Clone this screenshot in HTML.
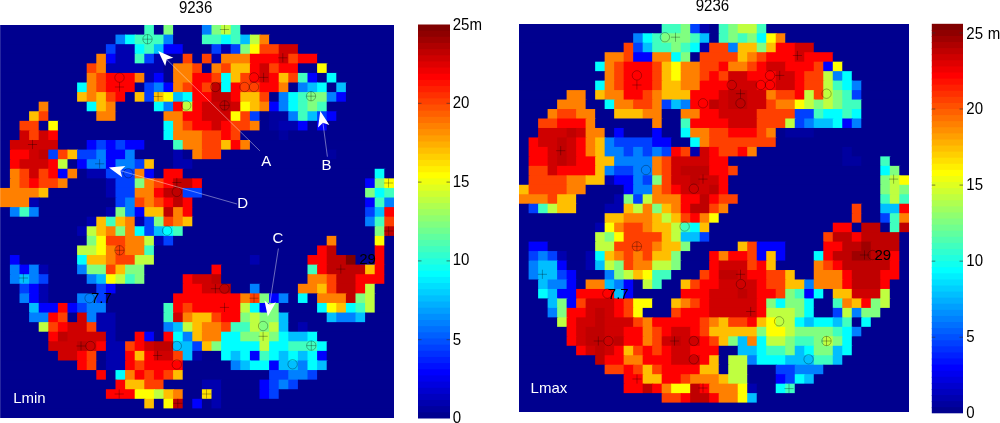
<!DOCTYPE html>
<html><head><meta charset="utf-8"><style>
html,body{margin:0;padding:0;background:#fff;}
body{width:1000px;height:423px;overflow:hidden;position:relative;font-family:"Liberation Sans",sans-serif;}
svg{position:absolute;left:0;top:0;will-change:transform;}
</style></head><body>
<svg width="1000" height="423" viewBox="0 0 1000 423" font-family="Liberation Sans, sans-serif">
<clipPath id="cl"><rect x="0" y="25" width="394" height="393"/></clipPath>
<g clip-path="url(#cl)">
<rect x="-0.70" y="24.00" width="146.00" height="11.59" fill="#00008f"/>
<rect x="144.30" y="24.00" width="10.60" height="11.59" fill="#40ffbf"/>
<rect x="153.90" y="24.00" width="10.60" height="11.59" fill="#00008f"/>
<rect x="163.50" y="24.00" width="10.60" height="11.59" fill="#80ff80"/>
<rect x="173.10" y="24.00" width="29.80" height="11.59" fill="#00008f"/>
<rect x="201.90" y="24.00" width="10.60" height="11.59" fill="#0080ff"/>
<rect x="211.50" y="24.00" width="10.60" height="11.59" fill="#80ff80"/>
<rect x="221.10" y="24.00" width="10.60" height="11.59" fill="#bfff40"/>
<rect x="230.70" y="24.00" width="10.60" height="11.59" fill="#40ffbf"/>
<rect x="240.30" y="24.00" width="154.60" height="11.59" fill="#00008f"/>
<rect x="-0.70" y="34.59" width="117.20" height="10.59" fill="#00008f"/>
<rect x="115.50" y="34.59" width="10.60" height="10.59" fill="#0080ff"/>
<rect x="125.10" y="34.59" width="10.60" height="10.59" fill="#00ffff"/>
<rect x="134.70" y="34.59" width="29.80" height="10.59" fill="#40ffbf"/>
<rect x="163.50" y="34.59" width="10.60" height="10.59" fill="#0080ff"/>
<rect x="173.10" y="34.59" width="29.80" height="10.59" fill="#00008f"/>
<rect x="201.90" y="34.59" width="20.20" height="10.59" fill="#40ffbf"/>
<rect x="221.10" y="34.59" width="10.60" height="10.59" fill="#00ffff"/>
<rect x="230.70" y="34.59" width="10.60" height="10.59" fill="#40ffbf"/>
<rect x="240.30" y="34.59" width="10.60" height="10.59" fill="#00bfff"/>
<rect x="249.90" y="34.59" width="10.60" height="10.59" fill="#bfff40"/>
<rect x="259.50" y="34.59" width="10.60" height="10.59" fill="#ff8000"/>
<rect x="269.10" y="34.59" width="125.80" height="10.59" fill="#00008f"/>
<rect x="-0.70" y="44.17" width="107.60" height="10.59" fill="#00008f"/>
<rect x="105.90" y="44.17" width="10.60" height="10.59" fill="#0040ff"/>
<rect x="115.50" y="44.17" width="20.20" height="10.59" fill="#0000af"/>
<rect x="134.70" y="44.17" width="10.60" height="10.59" fill="#00ffff"/>
<rect x="144.30" y="44.17" width="10.60" height="10.59" fill="#40ffbf"/>
<rect x="153.90" y="44.17" width="10.60" height="10.59" fill="#00bfff"/>
<rect x="163.50" y="44.17" width="20.20" height="10.59" fill="#0000ff"/>
<rect x="182.70" y="44.17" width="29.80" height="10.59" fill="#00008f"/>
<rect x="211.50" y="44.17" width="10.60" height="10.59" fill="#0040ff"/>
<rect x="221.10" y="44.17" width="10.60" height="10.59" fill="#0000af"/>
<rect x="230.70" y="44.17" width="10.60" height="10.59" fill="#0040ff"/>
<rect x="240.30" y="44.17" width="10.60" height="10.59" fill="#80ff80"/>
<rect x="249.90" y="44.17" width="10.60" height="10.59" fill="#ffff00"/>
<rect x="259.50" y="44.17" width="20.20" height="10.59" fill="#ff4000"/>
<rect x="278.70" y="44.17" width="20.20" height="10.59" fill="#cf0000"/>
<rect x="297.90" y="44.17" width="97.00" height="10.59" fill="#00008f"/>
<rect x="-0.70" y="53.76" width="98.00" height="10.59" fill="#00008f"/>
<rect x="96.30" y="53.76" width="10.60" height="10.59" fill="#ff8000"/>
<rect x="105.90" y="53.76" width="10.60" height="10.59" fill="#0000ff"/>
<rect x="115.50" y="53.76" width="20.20" height="10.59" fill="#0000af"/>
<rect x="134.70" y="53.76" width="10.60" height="10.59" fill="#40ffbf"/>
<rect x="144.30" y="53.76" width="10.60" height="10.59" fill="#0040ff"/>
<rect x="153.90" y="53.76" width="10.60" height="10.59" fill="#0000af"/>
<rect x="163.50" y="53.76" width="20.20" height="10.59" fill="#00008f"/>
<rect x="182.70" y="53.76" width="10.60" height="10.59" fill="#ff4000"/>
<rect x="192.30" y="53.76" width="10.60" height="10.59" fill="#00008f"/>
<rect x="201.90" y="53.76" width="10.60" height="10.59" fill="#ff4000"/>
<rect x="211.50" y="53.76" width="10.60" height="10.59" fill="#0000af"/>
<rect x="221.10" y="53.76" width="29.80" height="10.59" fill="#ff8000"/>
<rect x="249.90" y="53.76" width="29.80" height="10.59" fill="#ff0000"/>
<rect x="278.70" y="53.76" width="10.60" height="10.59" fill="#cf0000"/>
<rect x="288.30" y="53.76" width="10.60" height="10.59" fill="#ff4000"/>
<rect x="297.90" y="53.76" width="20.20" height="10.59" fill="#ff0000"/>
<rect x="317.10" y="53.76" width="77.80" height="10.59" fill="#00008f"/>
<rect x="-0.70" y="63.34" width="88.40" height="10.59" fill="#00008f"/>
<rect x="86.70" y="63.34" width="10.60" height="10.59" fill="#ff4000"/>
<rect x="96.30" y="63.34" width="10.60" height="10.59" fill="#ff8000"/>
<rect x="105.90" y="63.34" width="58.60" height="10.59" fill="#0000af"/>
<rect x="163.50" y="63.34" width="10.60" height="10.59" fill="#00008f"/>
<rect x="173.10" y="63.34" width="20.20" height="10.59" fill="#ff8000"/>
<rect x="192.30" y="63.34" width="10.60" height="10.59" fill="#ff4000"/>
<rect x="201.90" y="63.34" width="10.60" height="10.59" fill="#00008f"/>
<rect x="211.50" y="63.34" width="10.60" height="10.59" fill="#ff8000"/>
<rect x="221.10" y="63.34" width="10.60" height="10.59" fill="#ff4000"/>
<rect x="230.70" y="63.34" width="20.20" height="10.59" fill="#ffbf00"/>
<rect x="249.90" y="63.34" width="10.60" height="10.59" fill="#ff0000"/>
<rect x="259.50" y="63.34" width="10.60" height="10.59" fill="#cf0000"/>
<rect x="269.10" y="63.34" width="10.60" height="10.59" fill="#ff4000"/>
<rect x="278.70" y="63.34" width="20.20" height="10.59" fill="#ff0000"/>
<rect x="297.90" y="63.34" width="20.20" height="10.59" fill="#00008f"/>
<rect x="317.10" y="63.34" width="10.60" height="10.59" fill="#ffff00"/>
<rect x="326.70" y="63.34" width="68.20" height="10.59" fill="#00008f"/>
<rect x="-0.70" y="72.93" width="88.40" height="10.59" fill="#00008f"/>
<rect x="86.70" y="72.93" width="10.60" height="10.59" fill="#ff8000"/>
<rect x="96.30" y="72.93" width="10.60" height="10.59" fill="#ff4000"/>
<rect x="105.90" y="72.93" width="29.80" height="10.59" fill="#ff0000"/>
<rect x="134.70" y="72.93" width="10.60" height="10.59" fill="#ff8000"/>
<rect x="144.30" y="72.93" width="10.60" height="10.59" fill="#0000af"/>
<rect x="153.90" y="72.93" width="10.60" height="10.59" fill="#0000ff"/>
<rect x="163.50" y="72.93" width="10.60" height="10.59" fill="#00008f"/>
<rect x="173.10" y="72.93" width="20.20" height="10.59" fill="#ff8000"/>
<rect x="192.30" y="72.93" width="20.20" height="10.59" fill="#ff0000"/>
<rect x="211.50" y="72.93" width="10.60" height="10.59" fill="#ff4000"/>
<rect x="221.10" y="72.93" width="10.60" height="10.59" fill="#00ffff"/>
<rect x="230.70" y="72.93" width="10.60" height="10.59" fill="#ffbf00"/>
<rect x="240.30" y="72.93" width="10.60" height="10.59" fill="#ff4000"/>
<rect x="249.90" y="72.93" width="10.60" height="10.59" fill="#ff0000"/>
<rect x="259.50" y="72.93" width="10.60" height="10.59" fill="#cf0000"/>
<rect x="269.10" y="72.93" width="10.60" height="10.59" fill="#ff0000"/>
<rect x="278.70" y="72.93" width="10.60" height="10.59" fill="#ffbf00"/>
<rect x="288.30" y="72.93" width="10.60" height="10.59" fill="#ff4000"/>
<rect x="297.90" y="72.93" width="10.60" height="10.59" fill="#40ffbf"/>
<rect x="307.50" y="72.93" width="10.60" height="10.59" fill="#0000ff"/>
<rect x="317.10" y="72.93" width="10.60" height="10.59" fill="#00008f"/>
<rect x="326.70" y="72.93" width="10.60" height="10.59" fill="#00ffff"/>
<rect x="336.30" y="72.93" width="58.60" height="10.59" fill="#00008f"/>
<rect x="-0.70" y="82.51" width="78.80" height="10.58" fill="#00008f"/>
<rect x="77.10" y="82.51" width="10.60" height="10.58" fill="#00ffff"/>
<rect x="86.70" y="82.51" width="10.60" height="10.58" fill="#ff8000"/>
<rect x="96.30" y="82.51" width="10.60" height="10.58" fill="#ff4000"/>
<rect x="105.90" y="82.51" width="29.80" height="10.58" fill="#ff0000"/>
<rect x="134.70" y="82.51" width="10.60" height="10.58" fill="#00008f"/>
<rect x="144.30" y="82.51" width="10.60" height="10.58" fill="#0040ff"/>
<rect x="153.90" y="82.51" width="10.60" height="10.58" fill="#0080ff"/>
<rect x="163.50" y="82.51" width="10.60" height="10.58" fill="#0000ff"/>
<rect x="173.10" y="82.51" width="10.60" height="10.58" fill="#ff8000"/>
<rect x="182.70" y="82.51" width="10.60" height="10.58" fill="#ff4000"/>
<rect x="192.30" y="82.51" width="10.60" height="10.58" fill="#ff0000"/>
<rect x="201.90" y="82.51" width="10.60" height="10.58" fill="#ff4000"/>
<rect x="211.50" y="82.51" width="10.60" height="10.58" fill="#bf0000"/>
<rect x="221.10" y="82.51" width="10.60" height="10.58" fill="#00ffff"/>
<rect x="230.70" y="82.51" width="10.60" height="10.58" fill="#ff0000"/>
<rect x="240.30" y="82.51" width="20.20" height="10.58" fill="#ff4000"/>
<rect x="259.50" y="82.51" width="20.20" height="10.58" fill="#ff0000"/>
<rect x="278.70" y="82.51" width="10.60" height="10.58" fill="#ff8000"/>
<rect x="288.30" y="82.51" width="10.60" height="10.58" fill="#00008f"/>
<rect x="297.90" y="82.51" width="10.60" height="10.58" fill="#0080ff"/>
<rect x="307.50" y="82.51" width="10.60" height="10.58" fill="#00bfff"/>
<rect x="317.10" y="82.51" width="10.60" height="10.58" fill="#00ffff"/>
<rect x="326.70" y="82.51" width="10.60" height="10.58" fill="#00008f"/>
<rect x="336.30" y="82.51" width="10.60" height="10.58" fill="#00bfff"/>
<rect x="345.90" y="82.51" width="49.00" height="10.58" fill="#00008f"/>
<rect x="-0.70" y="92.09" width="78.80" height="10.59" fill="#00008f"/>
<rect x="77.10" y="92.09" width="10.60" height="10.59" fill="#ffbf00"/>
<rect x="86.70" y="92.09" width="10.60" height="10.59" fill="#ff8000"/>
<rect x="96.30" y="92.09" width="10.60" height="10.59" fill="#ffbf00"/>
<rect x="105.90" y="92.09" width="10.60" height="10.59" fill="#ff4000"/>
<rect x="115.50" y="92.09" width="10.60" height="10.59" fill="#ff0000"/>
<rect x="125.10" y="92.09" width="10.60" height="10.59" fill="#00008f"/>
<rect x="134.70" y="92.09" width="10.60" height="10.59" fill="#ffbf00"/>
<rect x="144.30" y="92.09" width="10.60" height="10.59" fill="#0040ff"/>
<rect x="153.90" y="92.09" width="10.60" height="10.59" fill="#ffbf00"/>
<rect x="163.50" y="92.09" width="10.60" height="10.59" fill="#ffff00"/>
<rect x="173.10" y="92.09" width="10.60" height="10.59" fill="#00bfff"/>
<rect x="182.70" y="92.09" width="10.60" height="10.59" fill="#00ffff"/>
<rect x="192.30" y="92.09" width="20.20" height="10.59" fill="#ff0000"/>
<rect x="211.50" y="92.09" width="20.20" height="10.59" fill="#bf0000"/>
<rect x="230.70" y="92.09" width="10.60" height="10.59" fill="#ff0000"/>
<rect x="240.30" y="92.09" width="20.20" height="10.59" fill="#ffbf00"/>
<rect x="259.50" y="92.09" width="10.60" height="10.59" fill="#ff4000"/>
<rect x="269.10" y="92.09" width="10.60" height="10.59" fill="#00008f"/>
<rect x="278.70" y="92.09" width="10.60" height="10.59" fill="#0080ff"/>
<rect x="288.30" y="92.09" width="10.60" height="10.59" fill="#00ffff"/>
<rect x="297.90" y="92.09" width="10.60" height="10.59" fill="#40ffbf"/>
<rect x="307.50" y="92.09" width="20.20" height="10.59" fill="#80ff80"/>
<rect x="326.70" y="92.09" width="10.60" height="10.59" fill="#0080ff"/>
<rect x="336.30" y="92.09" width="10.60" height="10.59" fill="#0000ff"/>
<rect x="345.90" y="92.09" width="49.00" height="10.59" fill="#00008f"/>
<rect x="-0.70" y="101.68" width="40.40" height="10.59" fill="#00008f"/>
<rect x="38.70" y="101.68" width="10.60" height="10.59" fill="#ff8000"/>
<rect x="48.30" y="101.68" width="39.40" height="10.59" fill="#00008f"/>
<rect x="86.70" y="101.68" width="10.60" height="10.59" fill="#00ffff"/>
<rect x="96.30" y="101.68" width="10.60" height="10.59" fill="#ffbf00"/>
<rect x="105.90" y="101.68" width="10.60" height="10.59" fill="#ff8000"/>
<rect x="115.50" y="101.68" width="39.40" height="10.59" fill="#00008f"/>
<rect x="153.90" y="101.68" width="10.60" height="10.59" fill="#00ffff"/>
<rect x="163.50" y="101.68" width="10.60" height="10.59" fill="#0080ff"/>
<rect x="173.10" y="101.68" width="10.60" height="10.59" fill="#ff0000"/>
<rect x="182.70" y="101.68" width="10.60" height="10.59" fill="#bfff40"/>
<rect x="192.30" y="101.68" width="10.60" height="10.59" fill="#ff0000"/>
<rect x="201.90" y="101.68" width="20.20" height="10.59" fill="#cf0000"/>
<rect x="221.10" y="101.68" width="10.60" height="10.59" fill="#bf0000"/>
<rect x="230.70" y="101.68" width="10.60" height="10.59" fill="#cf0000"/>
<rect x="240.30" y="101.68" width="10.60" height="10.59" fill="#ffff00"/>
<rect x="249.90" y="101.68" width="10.60" height="10.59" fill="#ffbf00"/>
<rect x="259.50" y="101.68" width="10.60" height="10.59" fill="#ff8000"/>
<rect x="269.10" y="101.68" width="10.60" height="10.59" fill="#0000ff"/>
<rect x="278.70" y="101.68" width="10.60" height="10.59" fill="#0080ff"/>
<rect x="288.30" y="101.68" width="10.60" height="10.59" fill="#00ffff"/>
<rect x="297.90" y="101.68" width="10.60" height="10.59" fill="#40ffbf"/>
<rect x="307.50" y="101.68" width="10.60" height="10.59" fill="#80ff80"/>
<rect x="317.10" y="101.68" width="10.60" height="10.59" fill="#40ffbf"/>
<rect x="326.70" y="101.68" width="68.20" height="10.59" fill="#00008f"/>
<rect x="-0.70" y="111.27" width="30.80" height="10.59" fill="#00008f"/>
<rect x="29.10" y="111.27" width="10.60" height="10.59" fill="#ffbf00"/>
<rect x="38.70" y="111.27" width="10.60" height="10.59" fill="#ff4000"/>
<rect x="48.30" y="111.27" width="49.00" height="10.59" fill="#00008f"/>
<rect x="96.30" y="111.27" width="20.20" height="10.59" fill="#ff8000"/>
<rect x="115.50" y="111.27" width="49.00" height="10.59" fill="#00008f"/>
<rect x="163.50" y="111.27" width="20.20" height="10.59" fill="#ff8000"/>
<rect x="182.70" y="111.27" width="20.20" height="10.59" fill="#ff0000"/>
<rect x="201.90" y="111.27" width="29.80" height="10.59" fill="#cf0000"/>
<rect x="230.70" y="111.27" width="10.60" height="10.59" fill="#ffff00"/>
<rect x="240.30" y="111.27" width="10.60" height="10.59" fill="#ff4000"/>
<rect x="249.90" y="111.27" width="10.60" height="10.59" fill="#0040ff"/>
<rect x="259.50" y="111.27" width="10.60" height="10.59" fill="#00008f"/>
<rect x="269.10" y="111.27" width="20.20" height="10.59" fill="#00009f"/>
<rect x="288.30" y="111.27" width="10.60" height="10.59" fill="#0080ff"/>
<rect x="297.90" y="111.27" width="10.60" height="10.59" fill="#40ffbf"/>
<rect x="307.50" y="111.27" width="10.60" height="10.59" fill="#00bfff"/>
<rect x="317.10" y="111.27" width="10.60" height="10.59" fill="#0040ff"/>
<rect x="326.70" y="111.27" width="10.60" height="10.59" fill="#0000ff"/>
<rect x="336.30" y="111.27" width="58.60" height="10.59" fill="#00008f"/>
<rect x="-0.70" y="120.85" width="21.20" height="10.58" fill="#00008f"/>
<rect x="19.50" y="120.85" width="20.20" height="10.58" fill="#ff4000"/>
<rect x="38.70" y="120.85" width="10.60" height="10.58" fill="#00008f"/>
<rect x="48.30" y="120.85" width="10.60" height="10.58" fill="#ffff00"/>
<rect x="57.90" y="120.85" width="106.60" height="10.58" fill="#00008f"/>
<rect x="163.50" y="120.85" width="10.60" height="10.58" fill="#00ffff"/>
<rect x="173.10" y="120.85" width="10.60" height="10.58" fill="#ff8000"/>
<rect x="182.70" y="120.85" width="10.60" height="10.58" fill="#ff4000"/>
<rect x="192.30" y="120.85" width="20.20" height="10.58" fill="#ff0000"/>
<rect x="211.50" y="120.85" width="10.60" height="10.58" fill="#cf0000"/>
<rect x="221.10" y="120.85" width="10.60" height="10.58" fill="#ff0000"/>
<rect x="230.70" y="120.85" width="20.20" height="10.58" fill="#ff4000"/>
<rect x="249.90" y="120.85" width="10.60" height="10.58" fill="#ff8000"/>
<rect x="259.50" y="120.85" width="10.60" height="10.58" fill="#00008f"/>
<rect x="269.10" y="120.85" width="10.60" height="10.58" fill="#00009f"/>
<rect x="278.70" y="120.85" width="20.20" height="10.58" fill="#0000af"/>
<rect x="297.90" y="120.85" width="10.60" height="10.58" fill="#0000ff"/>
<rect x="307.50" y="120.85" width="10.60" height="10.58" fill="#00008f"/>
<rect x="317.10" y="120.85" width="10.60" height="10.58" fill="#0000ff"/>
<rect x="326.70" y="120.85" width="68.20" height="10.58" fill="#00008f"/>
<rect x="-0.70" y="130.44" width="21.20" height="10.59" fill="#00008f"/>
<rect x="19.50" y="130.44" width="10.60" height="10.59" fill="#cf0000"/>
<rect x="29.10" y="130.44" width="10.60" height="10.59" fill="#ff4000"/>
<rect x="38.70" y="130.44" width="10.60" height="10.59" fill="#cf0000"/>
<rect x="48.30" y="130.44" width="10.60" height="10.59" fill="#ff0000"/>
<rect x="57.90" y="130.44" width="106.60" height="10.59" fill="#00008f"/>
<rect x="163.50" y="130.44" width="10.60" height="10.59" fill="#00ffff"/>
<rect x="173.10" y="130.44" width="29.80" height="10.59" fill="#ff8000"/>
<rect x="201.90" y="130.44" width="20.20" height="10.59" fill="#ff4000"/>
<rect x="221.10" y="130.44" width="10.60" height="10.59" fill="#ff0000"/>
<rect x="230.70" y="130.44" width="10.60" height="10.59" fill="#ff4000"/>
<rect x="240.30" y="130.44" width="39.40" height="10.59" fill="#00008f"/>
<rect x="278.70" y="130.44" width="10.60" height="10.59" fill="#00009f"/>
<rect x="288.30" y="130.44" width="106.60" height="10.59" fill="#00008f"/>
<rect x="-0.70" y="140.02" width="11.60" height="10.59" fill="#00008f"/>
<rect x="9.90" y="140.02" width="49.00" height="10.59" fill="#cf0000"/>
<rect x="57.90" y="140.02" width="29.80" height="10.59" fill="#00008f"/>
<rect x="86.70" y="140.02" width="10.60" height="10.59" fill="#0000ff"/>
<rect x="96.30" y="140.02" width="10.60" height="10.59" fill="#0040ff"/>
<rect x="105.90" y="140.02" width="10.60" height="10.59" fill="#0000ff"/>
<rect x="115.50" y="140.02" width="10.60" height="10.59" fill="#0040ff"/>
<rect x="125.10" y="140.02" width="20.20" height="10.59" fill="#0000ff"/>
<rect x="144.30" y="140.02" width="29.80" height="10.59" fill="#00008f"/>
<rect x="173.10" y="140.02" width="10.60" height="10.59" fill="#40ffbf"/>
<rect x="182.70" y="140.02" width="20.20" height="10.59" fill="#ff8000"/>
<rect x="201.90" y="140.02" width="20.20" height="10.59" fill="#ff4000"/>
<rect x="221.10" y="140.02" width="10.60" height="10.59" fill="#ffbf00"/>
<rect x="230.70" y="140.02" width="10.60" height="10.59" fill="#ff0000"/>
<rect x="240.30" y="140.02" width="10.60" height="10.59" fill="#ff8000"/>
<rect x="249.90" y="140.02" width="145.00" height="10.59" fill="#00008f"/>
<rect x="-0.70" y="149.61" width="11.60" height="10.59" fill="#00008f"/>
<rect x="9.90" y="149.61" width="20.20" height="10.59" fill="#ff0000"/>
<rect x="29.10" y="149.61" width="10.60" height="10.59" fill="#cf0000"/>
<rect x="38.70" y="149.61" width="10.60" height="10.59" fill="#bf0000"/>
<rect x="48.30" y="149.61" width="10.60" height="10.59" fill="#0040ff"/>
<rect x="57.90" y="149.61" width="10.60" height="10.59" fill="#ff4000"/>
<rect x="67.50" y="149.61" width="10.60" height="10.59" fill="#ffbf00"/>
<rect x="77.10" y="149.61" width="20.20" height="10.59" fill="#0040ff"/>
<rect x="96.30" y="149.61" width="10.60" height="10.59" fill="#0080ff"/>
<rect x="105.90" y="149.61" width="20.20" height="10.59" fill="#0000ff"/>
<rect x="125.10" y="149.61" width="10.60" height="10.59" fill="#0080ff"/>
<rect x="134.70" y="149.61" width="39.40" height="10.59" fill="#00008f"/>
<rect x="173.10" y="149.61" width="10.60" height="10.59" fill="#0000af"/>
<rect x="182.70" y="149.61" width="10.60" height="10.59" fill="#00008f"/>
<rect x="192.30" y="149.61" width="10.60" height="10.59" fill="#ff8000"/>
<rect x="201.90" y="149.61" width="20.20" height="10.59" fill="#ff4000"/>
<rect x="221.10" y="149.61" width="106.60" height="10.59" fill="#00008f"/>
<rect x="326.70" y="149.61" width="10.60" height="10.59" fill="#00009f"/>
<rect x="336.30" y="149.61" width="58.60" height="10.59" fill="#00008f"/>
<rect x="-0.70" y="159.19" width="11.60" height="10.59" fill="#00008f"/>
<rect x="9.90" y="159.19" width="10.60" height="10.59" fill="#ff0000"/>
<rect x="19.50" y="159.19" width="29.80" height="10.59" fill="#cf0000"/>
<rect x="48.30" y="159.19" width="10.60" height="10.59" fill="#ff0000"/>
<rect x="57.90" y="159.19" width="10.60" height="10.59" fill="#bfff40"/>
<rect x="67.50" y="159.19" width="10.60" height="10.59" fill="#00008f"/>
<rect x="77.10" y="159.19" width="10.60" height="10.59" fill="#0000ff"/>
<rect x="86.70" y="159.19" width="20.20" height="10.59" fill="#0080ff"/>
<rect x="105.90" y="159.19" width="10.60" height="10.59" fill="#0000ff"/>
<rect x="115.50" y="159.19" width="20.20" height="10.59" fill="#0080ff"/>
<rect x="134.70" y="159.19" width="10.60" height="10.59" fill="#0040ff"/>
<rect x="144.30" y="159.19" width="10.60" height="10.59" fill="#ffbf00"/>
<rect x="153.90" y="159.19" width="20.20" height="10.59" fill="#00008f"/>
<rect x="173.10" y="159.19" width="20.20" height="10.59" fill="#0000af"/>
<rect x="192.30" y="159.19" width="202.60" height="10.59" fill="#00008f"/>
<rect x="-0.70" y="168.78" width="11.60" height="10.59" fill="#00008f"/>
<rect x="9.90" y="168.78" width="10.60" height="10.59" fill="#ff8000"/>
<rect x="19.50" y="168.78" width="10.60" height="10.59" fill="#ff4000"/>
<rect x="29.10" y="168.78" width="10.60" height="10.59" fill="#cf0000"/>
<rect x="38.70" y="168.78" width="10.60" height="10.59" fill="#ff4000"/>
<rect x="48.30" y="168.78" width="10.60" height="10.59" fill="#ff0000"/>
<rect x="57.90" y="168.78" width="10.60" height="10.59" fill="#0000ff"/>
<rect x="67.50" y="168.78" width="10.60" height="10.59" fill="#ff8000"/>
<rect x="77.10" y="168.78" width="10.60" height="10.59" fill="#00008f"/>
<rect x="86.70" y="168.78" width="20.20" height="10.59" fill="#0000af"/>
<rect x="105.90" y="168.78" width="29.80" height="10.59" fill="#0040ff"/>
<rect x="134.70" y="168.78" width="10.60" height="10.59" fill="#ff8000"/>
<rect x="144.30" y="168.78" width="10.60" height="10.59" fill="#0000ff"/>
<rect x="153.90" y="168.78" width="10.60" height="10.59" fill="#00008f"/>
<rect x="163.50" y="168.78" width="20.20" height="10.59" fill="#ff0000"/>
<rect x="182.70" y="168.78" width="193.00" height="10.59" fill="#00008f"/>
<rect x="374.70" y="168.78" width="10.60" height="10.59" fill="#00ffff"/>
<rect x="384.30" y="168.78" width="10.60" height="10.59" fill="#00008f"/>
<rect x="-0.70" y="178.36" width="11.60" height="10.59" fill="#00008f"/>
<rect x="9.90" y="178.36" width="10.60" height="10.59" fill="#ff8000"/>
<rect x="19.50" y="178.36" width="10.60" height="10.59" fill="#ff4000"/>
<rect x="29.10" y="178.36" width="10.60" height="10.59" fill="#ff0000"/>
<rect x="38.70" y="178.36" width="20.20" height="10.59" fill="#ff4000"/>
<rect x="57.90" y="178.36" width="10.60" height="10.59" fill="#ff8000"/>
<rect x="67.50" y="178.36" width="39.40" height="10.59" fill="#00008f"/>
<rect x="105.90" y="178.36" width="10.60" height="10.59" fill="#0000af"/>
<rect x="115.50" y="178.36" width="20.20" height="10.59" fill="#0040ff"/>
<rect x="134.70" y="178.36" width="10.60" height="10.59" fill="#80ff80"/>
<rect x="144.30" y="178.36" width="10.60" height="10.59" fill="#ff8000"/>
<rect x="153.90" y="178.36" width="10.60" height="10.59" fill="#ff4000"/>
<rect x="163.50" y="178.36" width="10.60" height="10.59" fill="#ff0000"/>
<rect x="173.10" y="178.36" width="20.20" height="10.59" fill="#bf0000"/>
<rect x="192.30" y="178.36" width="10.60" height="10.59" fill="#ff0000"/>
<rect x="201.90" y="178.36" width="164.20" height="10.59" fill="#00008f"/>
<rect x="365.10" y="178.36" width="10.60" height="10.59" fill="#0000ff"/>
<rect x="374.70" y="178.36" width="10.60" height="10.59" fill="#80ff80"/>
<rect x="384.30" y="178.36" width="10.60" height="10.59" fill="#ffff00"/>
<rect x="-0.70" y="187.95" width="40.40" height="10.59" fill="#ff8000"/>
<rect x="38.70" y="187.95" width="10.60" height="10.59" fill="#ffbf00"/>
<rect x="48.30" y="187.95" width="58.60" height="10.59" fill="#00008f"/>
<rect x="105.90" y="187.95" width="10.60" height="10.59" fill="#0000af"/>
<rect x="115.50" y="187.95" width="20.20" height="10.59" fill="#0040ff"/>
<rect x="134.70" y="187.95" width="20.20" height="10.59" fill="#ff8000"/>
<rect x="153.90" y="187.95" width="10.60" height="10.59" fill="#ff0000"/>
<rect x="163.50" y="187.95" width="20.20" height="10.59" fill="#bf0000"/>
<rect x="182.70" y="187.95" width="20.20" height="10.59" fill="#0040ff"/>
<rect x="201.90" y="187.95" width="164.20" height="10.59" fill="#00008f"/>
<rect x="365.10" y="187.95" width="10.60" height="10.59" fill="#80ff80"/>
<rect x="374.70" y="187.95" width="10.60" height="10.59" fill="#00ffff"/>
<rect x="384.30" y="187.95" width="10.60" height="10.59" fill="#40ffbf"/>
<rect x="-0.70" y="197.53" width="30.80" height="10.59" fill="#ff8000"/>
<rect x="29.10" y="197.53" width="10.60" height="10.59" fill="#0000af"/>
<rect x="38.70" y="197.53" width="77.80" height="10.59" fill="#00008f"/>
<rect x="115.50" y="197.53" width="10.60" height="10.59" fill="#0040ff"/>
<rect x="125.10" y="197.53" width="10.60" height="10.59" fill="#0080ff"/>
<rect x="134.70" y="197.53" width="10.60" height="10.59" fill="#ff4000"/>
<rect x="144.30" y="197.53" width="10.60" height="10.59" fill="#ff8000"/>
<rect x="153.90" y="197.53" width="10.60" height="10.59" fill="#ff4000"/>
<rect x="163.50" y="197.53" width="10.60" height="10.59" fill="#ff0000"/>
<rect x="173.10" y="197.53" width="10.60" height="10.59" fill="#bf0000"/>
<rect x="182.70" y="197.53" width="10.60" height="10.59" fill="#ff0000"/>
<rect x="192.30" y="197.53" width="173.80" height="10.59" fill="#00008f"/>
<rect x="365.10" y="197.53" width="10.60" height="10.59" fill="#0000ff"/>
<rect x="374.70" y="197.53" width="10.60" height="10.59" fill="#40ffbf"/>
<rect x="384.30" y="197.53" width="10.60" height="10.59" fill="#0080ff"/>
<rect x="-0.70" y="207.12" width="11.60" height="10.59" fill="#00008f"/>
<rect x="9.90" y="207.12" width="10.60" height="10.59" fill="#0080ff"/>
<rect x="19.50" y="207.12" width="10.60" height="10.59" fill="#40ffbf"/>
<rect x="29.10" y="207.12" width="10.60" height="10.59" fill="#0080ff"/>
<rect x="38.70" y="207.12" width="68.20" height="10.59" fill="#00008f"/>
<rect x="105.90" y="207.12" width="10.60" height="10.59" fill="#0000af"/>
<rect x="115.50" y="207.12" width="10.60" height="10.59" fill="#80ff80"/>
<rect x="125.10" y="207.12" width="10.60" height="10.59" fill="#0080ff"/>
<rect x="134.70" y="207.12" width="10.60" height="10.59" fill="#0000ff"/>
<rect x="144.30" y="207.12" width="20.20" height="10.59" fill="#ffbf00"/>
<rect x="163.50" y="207.12" width="10.60" height="10.59" fill="#bf0000"/>
<rect x="173.10" y="207.12" width="10.60" height="10.59" fill="#ff8000"/>
<rect x="182.70" y="207.12" width="10.60" height="10.59" fill="#ff0000"/>
<rect x="192.30" y="207.12" width="173.80" height="10.59" fill="#00008f"/>
<rect x="365.10" y="207.12" width="10.60" height="10.59" fill="#0040ff"/>
<rect x="374.70" y="207.12" width="10.60" height="10.59" fill="#00bfff"/>
<rect x="384.30" y="207.12" width="10.60" height="10.59" fill="#ff0000"/>
<rect x="-0.70" y="216.70" width="88.40" height="10.59" fill="#00008f"/>
<rect x="86.70" y="216.70" width="10.60" height="10.59" fill="#0000af"/>
<rect x="96.30" y="216.70" width="10.60" height="10.59" fill="#ffbf00"/>
<rect x="105.90" y="216.70" width="10.60" height="10.59" fill="#40ffbf"/>
<rect x="115.50" y="216.70" width="10.60" height="10.59" fill="#ffbf00"/>
<rect x="125.10" y="216.70" width="10.60" height="10.59" fill="#ff8000"/>
<rect x="134.70" y="216.70" width="10.60" height="10.59" fill="#0000af"/>
<rect x="144.30" y="216.70" width="10.60" height="10.59" fill="#0040ff"/>
<rect x="153.90" y="216.70" width="10.60" height="10.59" fill="#80ff80"/>
<rect x="163.50" y="216.70" width="10.60" height="10.59" fill="#ff4000"/>
<rect x="173.10" y="216.70" width="10.60" height="10.59" fill="#ff8000"/>
<rect x="182.70" y="216.70" width="10.60" height="10.59" fill="#ffbf00"/>
<rect x="192.30" y="216.70" width="173.80" height="10.59" fill="#00008f"/>
<rect x="365.10" y="216.70" width="10.60" height="10.59" fill="#0080ff"/>
<rect x="374.70" y="216.70" width="10.60" height="10.59" fill="#40ffbf"/>
<rect x="384.30" y="216.70" width="10.60" height="10.59" fill="#ff4000"/>
<rect x="-0.70" y="226.29" width="78.80" height="10.59" fill="#00008f"/>
<rect x="77.10" y="226.29" width="10.60" height="10.59" fill="#0000af"/>
<rect x="86.70" y="226.29" width="10.60" height="10.59" fill="#bfff40"/>
<rect x="96.30" y="226.29" width="10.60" height="10.59" fill="#ffbf00"/>
<rect x="105.90" y="226.29" width="10.60" height="10.59" fill="#ff8000"/>
<rect x="115.50" y="226.29" width="10.60" height="10.59" fill="#80ff80"/>
<rect x="125.10" y="226.29" width="10.60" height="10.59" fill="#ff8000"/>
<rect x="134.70" y="226.29" width="10.60" height="10.59" fill="#00ffff"/>
<rect x="144.30" y="226.29" width="10.60" height="10.59" fill="#0040ff"/>
<rect x="153.90" y="226.29" width="10.60" height="10.59" fill="#00bfff"/>
<rect x="163.50" y="226.29" width="10.60" height="10.59" fill="#00ffff"/>
<rect x="173.10" y="226.29" width="10.60" height="10.59" fill="#40ffbf"/>
<rect x="182.70" y="226.29" width="193.00" height="10.59" fill="#00008f"/>
<rect x="374.70" y="226.29" width="10.60" height="10.59" fill="#80ff80"/>
<rect x="384.30" y="226.29" width="10.60" height="10.59" fill="#bf0000"/>
<rect x="-0.70" y="235.87" width="88.40" height="10.59" fill="#00008f"/>
<rect x="86.70" y="235.87" width="10.60" height="10.59" fill="#80ff80"/>
<rect x="96.30" y="235.87" width="10.60" height="10.59" fill="#ffff00"/>
<rect x="105.90" y="235.87" width="20.20" height="10.59" fill="#ff4000"/>
<rect x="125.10" y="235.87" width="20.20" height="10.59" fill="#ff8000"/>
<rect x="144.30" y="235.87" width="10.60" height="10.59" fill="#bfff40"/>
<rect x="153.90" y="235.87" width="10.60" height="10.59" fill="#0000af"/>
<rect x="163.50" y="235.87" width="10.60" height="10.59" fill="#0040ff"/>
<rect x="173.10" y="235.87" width="154.60" height="10.59" fill="#00008f"/>
<rect x="326.70" y="235.87" width="10.60" height="10.59" fill="#ff8000"/>
<rect x="336.30" y="235.87" width="39.40" height="10.59" fill="#00008f"/>
<rect x="374.70" y="235.87" width="10.60" height="10.59" fill="#ffff00"/>
<rect x="384.30" y="235.87" width="10.60" height="10.59" fill="#00008f"/>
<rect x="-0.70" y="245.46" width="78.80" height="10.59" fill="#00008f"/>
<rect x="77.10" y="245.46" width="20.20" height="10.59" fill="#bfff40"/>
<rect x="96.30" y="245.46" width="10.60" height="10.59" fill="#ffff00"/>
<rect x="105.90" y="245.46" width="10.60" height="10.59" fill="#ff8000"/>
<rect x="115.50" y="245.46" width="10.60" height="10.59" fill="#ff4000"/>
<rect x="125.10" y="245.46" width="20.20" height="10.59" fill="#ff8000"/>
<rect x="144.30" y="245.46" width="10.60" height="10.59" fill="#40ffbf"/>
<rect x="153.90" y="245.46" width="164.20" height="10.59" fill="#00008f"/>
<rect x="317.10" y="245.46" width="10.60" height="10.59" fill="#ff0000"/>
<rect x="326.70" y="245.46" width="10.60" height="10.59" fill="#bf0000"/>
<rect x="336.30" y="245.46" width="39.40" height="10.59" fill="#00008f"/>
<rect x="374.70" y="245.46" width="10.60" height="10.59" fill="#ff0000"/>
<rect x="384.30" y="245.46" width="10.60" height="10.59" fill="#00008f"/>
<rect x="-0.70" y="255.04" width="11.60" height="10.58" fill="#00008f"/>
<rect x="9.90" y="255.04" width="10.60" height="10.58" fill="#0000ff"/>
<rect x="19.50" y="255.04" width="58.60" height="10.58" fill="#00008f"/>
<rect x="77.10" y="255.04" width="10.60" height="10.58" fill="#00ffff"/>
<rect x="86.70" y="255.04" width="20.20" height="10.58" fill="#ffbf00"/>
<rect x="105.90" y="255.04" width="10.60" height="10.58" fill="#ff8000"/>
<rect x="115.50" y="255.04" width="20.20" height="10.58" fill="#ff4000"/>
<rect x="134.70" y="255.04" width="20.20" height="10.58" fill="#bfff40"/>
<rect x="153.90" y="255.04" width="97.00" height="10.58" fill="#00008f"/>
<rect x="249.90" y="255.04" width="10.60" height="10.58" fill="#0000af"/>
<rect x="259.50" y="255.04" width="49.00" height="10.58" fill="#00008f"/>
<rect x="307.50" y="255.04" width="20.20" height="10.58" fill="#ff0000"/>
<rect x="326.70" y="255.04" width="20.20" height="10.58" fill="#bf0000"/>
<rect x="345.90" y="255.04" width="10.60" height="10.58" fill="#800000"/>
<rect x="355.50" y="255.04" width="20.20" height="10.58" fill="#00008f"/>
<rect x="374.70" y="255.04" width="10.60" height="10.58" fill="#ff0000"/>
<rect x="384.30" y="255.04" width="10.60" height="10.58" fill="#00008f"/>
<rect x="-0.70" y="264.62" width="11.60" height="10.58" fill="#00008f"/>
<rect x="9.90" y="264.62" width="10.60" height="10.58" fill="#0080ff"/>
<rect x="19.50" y="264.62" width="10.60" height="10.58" fill="#0000ff"/>
<rect x="29.10" y="264.62" width="10.60" height="10.58" fill="#0080ff"/>
<rect x="38.70" y="264.62" width="10.60" height="10.58" fill="#0000af"/>
<rect x="48.30" y="264.62" width="29.80" height="10.58" fill="#00008f"/>
<rect x="77.10" y="264.62" width="10.60" height="10.58" fill="#0080ff"/>
<rect x="86.70" y="264.62" width="20.20" height="10.58" fill="#80ff80"/>
<rect x="105.90" y="264.62" width="10.60" height="10.58" fill="#ff4000"/>
<rect x="115.50" y="264.62" width="10.60" height="10.58" fill="#ffbf00"/>
<rect x="125.10" y="264.62" width="20.20" height="10.58" fill="#80ff80"/>
<rect x="144.30" y="264.62" width="68.20" height="10.58" fill="#00008f"/>
<rect x="211.50" y="264.62" width="10.60" height="10.58" fill="#ff0000"/>
<rect x="221.10" y="264.62" width="87.40" height="10.58" fill="#00008f"/>
<rect x="307.50" y="264.62" width="10.60" height="10.58" fill="#40ffbf"/>
<rect x="317.10" y="264.62" width="10.60" height="10.58" fill="#ff0000"/>
<rect x="326.70" y="264.62" width="39.40" height="10.58" fill="#bf0000"/>
<rect x="365.10" y="264.62" width="10.60" height="10.58" fill="#ffbf00"/>
<rect x="374.70" y="264.62" width="10.60" height="10.58" fill="#ff0000"/>
<rect x="384.30" y="264.62" width="10.60" height="10.58" fill="#00008f"/>
<rect x="-0.70" y="274.21" width="11.60" height="10.58" fill="#00008f"/>
<rect x="9.90" y="274.21" width="10.60" height="10.58" fill="#0080ff"/>
<rect x="19.50" y="274.21" width="10.60" height="10.58" fill="#00bfff"/>
<rect x="29.10" y="274.21" width="10.60" height="10.58" fill="#0080ff"/>
<rect x="38.70" y="274.21" width="10.60" height="10.58" fill="#0040ff"/>
<rect x="48.30" y="274.21" width="39.40" height="10.58" fill="#00008f"/>
<rect x="86.70" y="274.21" width="10.60" height="10.58" fill="#0080ff"/>
<rect x="96.30" y="274.21" width="10.60" height="10.58" fill="#00bfff"/>
<rect x="105.90" y="274.21" width="10.60" height="10.58" fill="#ffff00"/>
<rect x="115.50" y="274.21" width="10.60" height="10.58" fill="#bfff40"/>
<rect x="125.10" y="274.21" width="10.60" height="10.58" fill="#40ffbf"/>
<rect x="134.70" y="274.21" width="10.60" height="10.58" fill="#80ff80"/>
<rect x="144.30" y="274.21" width="39.40" height="10.58" fill="#00008f"/>
<rect x="182.70" y="274.21" width="10.60" height="10.58" fill="#ff0000"/>
<rect x="192.30" y="274.21" width="20.20" height="10.58" fill="#cf0000"/>
<rect x="211.50" y="274.21" width="10.60" height="10.58" fill="#bf0000"/>
<rect x="221.10" y="274.21" width="87.40" height="10.58" fill="#00008f"/>
<rect x="307.50" y="274.21" width="20.20" height="10.58" fill="#ff8000"/>
<rect x="326.70" y="274.21" width="10.60" height="10.58" fill="#ff4000"/>
<rect x="336.30" y="274.21" width="20.20" height="10.58" fill="#bf0000"/>
<rect x="355.50" y="274.21" width="29.80" height="10.58" fill="#ff0000"/>
<rect x="384.30" y="274.21" width="10.60" height="10.58" fill="#00008f"/>
<rect x="-0.70" y="283.80" width="21.20" height="10.58" fill="#00008f"/>
<rect x="19.50" y="283.80" width="10.60" height="10.58" fill="#0040ff"/>
<rect x="29.10" y="283.80" width="10.60" height="10.58" fill="#0000ff"/>
<rect x="38.70" y="283.80" width="10.60" height="10.58" fill="#0000af"/>
<rect x="48.30" y="283.80" width="49.00" height="10.58" fill="#00008f"/>
<rect x="96.30" y="283.80" width="10.60" height="10.58" fill="#0040ff"/>
<rect x="105.90" y="283.80" width="10.60" height="10.58" fill="#0000ff"/>
<rect x="115.50" y="283.80" width="68.20" height="10.58" fill="#00008f"/>
<rect x="182.70" y="283.80" width="20.20" height="10.58" fill="#ff0000"/>
<rect x="201.90" y="283.80" width="20.20" height="10.58" fill="#cf0000"/>
<rect x="221.10" y="283.80" width="10.60" height="10.58" fill="#bf0000"/>
<rect x="230.70" y="283.80" width="20.20" height="10.58" fill="#00008f"/>
<rect x="249.90" y="283.80" width="10.60" height="10.58" fill="#0080ff"/>
<rect x="259.50" y="283.80" width="39.40" height="10.58" fill="#00008f"/>
<rect x="297.90" y="283.80" width="20.20" height="10.58" fill="#ff8000"/>
<rect x="317.10" y="283.80" width="10.60" height="10.58" fill="#ffbf00"/>
<rect x="326.70" y="283.80" width="10.60" height="10.58" fill="#ff4000"/>
<rect x="336.30" y="283.80" width="20.20" height="10.58" fill="#bf0000"/>
<rect x="355.50" y="283.80" width="10.60" height="10.58" fill="#ff0000"/>
<rect x="365.10" y="283.80" width="10.60" height="10.58" fill="#bfff40"/>
<rect x="374.70" y="283.80" width="20.20" height="10.58" fill="#00008f"/>
<rect x="-0.70" y="293.38" width="21.20" height="10.58" fill="#00008f"/>
<rect x="19.50" y="293.38" width="10.60" height="10.58" fill="#0080ff"/>
<rect x="29.10" y="293.38" width="10.60" height="10.58" fill="#0000ff"/>
<rect x="38.70" y="293.38" width="10.60" height="10.58" fill="#0000af"/>
<rect x="48.30" y="293.38" width="29.80" height="10.58" fill="#00008f"/>
<rect x="77.10" y="293.38" width="20.20" height="10.58" fill="#0080ff"/>
<rect x="96.30" y="293.38" width="10.60" height="10.58" fill="#0040ff"/>
<rect x="105.90" y="293.38" width="68.20" height="10.58" fill="#00008f"/>
<rect x="173.10" y="293.38" width="68.20" height="10.58" fill="#ff0000"/>
<rect x="240.30" y="293.38" width="10.60" height="10.58" fill="#ff8000"/>
<rect x="249.90" y="293.38" width="10.60" height="10.58" fill="#ff4000"/>
<rect x="259.50" y="293.38" width="10.60" height="10.58" fill="#80ff80"/>
<rect x="269.10" y="293.38" width="10.60" height="10.58" fill="#0000ff"/>
<rect x="278.70" y="293.38" width="10.60" height="10.58" fill="#0080ff"/>
<rect x="288.30" y="293.38" width="10.60" height="10.58" fill="#00008f"/>
<rect x="297.90" y="293.38" width="10.60" height="10.58" fill="#00ffff"/>
<rect x="307.50" y="293.38" width="10.60" height="10.58" fill="#00008f"/>
<rect x="317.10" y="293.38" width="29.80" height="10.58" fill="#ff8000"/>
<rect x="345.90" y="293.38" width="10.60" height="10.58" fill="#bf0000"/>
<rect x="355.50" y="293.38" width="10.60" height="10.58" fill="#80ff80"/>
<rect x="365.10" y="293.38" width="10.60" height="10.58" fill="#bfff40"/>
<rect x="374.70" y="293.38" width="20.20" height="10.58" fill="#00008f"/>
<rect x="-0.70" y="302.97" width="30.80" height="10.58" fill="#00008f"/>
<rect x="29.10" y="302.97" width="10.60" height="10.58" fill="#00bfff"/>
<rect x="38.70" y="302.97" width="20.20" height="10.58" fill="#0000ff"/>
<rect x="57.90" y="302.97" width="10.60" height="10.58" fill="#ff0000"/>
<rect x="67.50" y="302.97" width="10.60" height="10.58" fill="#0000ff"/>
<rect x="77.10" y="302.97" width="10.60" height="10.58" fill="#0040ff"/>
<rect x="86.70" y="302.97" width="20.20" height="10.58" fill="#0080ff"/>
<rect x="105.90" y="302.97" width="58.60" height="10.58" fill="#00008f"/>
<rect x="163.50" y="302.97" width="10.60" height="10.58" fill="#40ffbf"/>
<rect x="173.10" y="302.97" width="10.60" height="10.58" fill="#ff0000"/>
<rect x="182.70" y="302.97" width="10.60" height="10.58" fill="#ff4000"/>
<rect x="192.30" y="302.97" width="49.00" height="10.58" fill="#ff0000"/>
<rect x="240.30" y="302.97" width="10.60" height="10.58" fill="#bfff40"/>
<rect x="249.90" y="302.97" width="10.60" height="10.58" fill="#00ffff"/>
<rect x="259.50" y="302.97" width="10.60" height="10.58" fill="#0000ff"/>
<rect x="269.10" y="302.97" width="10.60" height="10.58" fill="#80ff80"/>
<rect x="278.70" y="302.97" width="39.40" height="10.58" fill="#00008f"/>
<rect x="317.10" y="302.97" width="10.60" height="10.58" fill="#00ffff"/>
<rect x="326.70" y="302.97" width="10.60" height="10.58" fill="#ffff00"/>
<rect x="336.30" y="302.97" width="10.60" height="10.58" fill="#ffbf00"/>
<rect x="345.90" y="302.97" width="10.60" height="10.58" fill="#00ffff"/>
<rect x="355.50" y="302.97" width="10.60" height="10.58" fill="#40ffbf"/>
<rect x="365.10" y="302.97" width="10.60" height="10.58" fill="#bfff40"/>
<rect x="374.70" y="302.97" width="20.20" height="10.58" fill="#00008f"/>
<rect x="-0.70" y="312.55" width="30.80" height="10.58" fill="#00008f"/>
<rect x="29.10" y="312.55" width="20.20" height="10.58" fill="#0080ff"/>
<rect x="48.30" y="312.55" width="10.60" height="10.58" fill="#ff0000"/>
<rect x="57.90" y="312.55" width="10.60" height="10.58" fill="#ff4000"/>
<rect x="67.50" y="312.55" width="10.60" height="10.58" fill="#00008f"/>
<rect x="77.10" y="312.55" width="10.60" height="10.58" fill="#cf0000"/>
<rect x="86.70" y="312.55" width="10.60" height="10.58" fill="#0080ff"/>
<rect x="96.30" y="312.55" width="20.20" height="10.58" fill="#0000af"/>
<rect x="115.50" y="312.55" width="49.00" height="10.58" fill="#00008f"/>
<rect x="163.50" y="312.55" width="10.60" height="10.58" fill="#40ffbf"/>
<rect x="173.10" y="312.55" width="10.60" height="10.58" fill="#cf0000"/>
<rect x="182.70" y="312.55" width="10.60" height="10.58" fill="#ff8000"/>
<rect x="192.30" y="312.55" width="20.20" height="10.58" fill="#ffbf00"/>
<rect x="211.50" y="312.55" width="10.60" height="10.58" fill="#ff4000"/>
<rect x="221.10" y="312.55" width="20.20" height="10.58" fill="#ff0000"/>
<rect x="240.30" y="312.55" width="10.60" height="10.58" fill="#80ff80"/>
<rect x="249.90" y="312.55" width="10.60" height="10.58" fill="#bfff40"/>
<rect x="259.50" y="312.55" width="20.20" height="10.58" fill="#80ff80"/>
<rect x="278.70" y="312.55" width="10.60" height="10.58" fill="#00bfff"/>
<rect x="288.30" y="312.55" width="39.40" height="10.58" fill="#00008f"/>
<rect x="326.70" y="312.55" width="10.60" height="10.58" fill="#00bfff"/>
<rect x="336.30" y="312.55" width="20.20" height="10.58" fill="#0080ff"/>
<rect x="355.50" y="312.55" width="10.60" height="10.58" fill="#00bfff"/>
<rect x="365.10" y="312.55" width="29.80" height="10.58" fill="#00008f"/>
<rect x="-0.70" y="322.14" width="40.40" height="10.58" fill="#00008f"/>
<rect x="38.70" y="322.14" width="10.60" height="10.58" fill="#bfff40"/>
<rect x="48.30" y="322.14" width="10.60" height="10.58" fill="#ff4000"/>
<rect x="57.90" y="322.14" width="10.60" height="10.58" fill="#ff0000"/>
<rect x="67.50" y="322.14" width="20.20" height="10.58" fill="#cf0000"/>
<rect x="86.70" y="322.14" width="10.60" height="10.58" fill="#ff4000"/>
<rect x="96.30" y="322.14" width="20.20" height="10.58" fill="#0000af"/>
<rect x="115.50" y="322.14" width="49.00" height="10.58" fill="#00008f"/>
<rect x="163.50" y="322.14" width="10.60" height="10.58" fill="#0080ff"/>
<rect x="173.10" y="322.14" width="10.60" height="10.58" fill="#00bfff"/>
<rect x="182.70" y="322.14" width="10.60" height="10.58" fill="#bfff40"/>
<rect x="192.30" y="322.14" width="10.60" height="10.58" fill="#ffbf00"/>
<rect x="201.90" y="322.14" width="20.20" height="10.58" fill="#ff8000"/>
<rect x="221.10" y="322.14" width="10.60" height="10.58" fill="#ff4000"/>
<rect x="230.70" y="322.14" width="20.20" height="10.58" fill="#40ffbf"/>
<rect x="249.90" y="322.14" width="10.60" height="10.58" fill="#bfff40"/>
<rect x="259.50" y="322.14" width="10.60" height="10.58" fill="#80ff80"/>
<rect x="269.10" y="322.14" width="10.60" height="10.58" fill="#bfff40"/>
<rect x="278.70" y="322.14" width="10.60" height="10.58" fill="#00bfff"/>
<rect x="288.30" y="322.14" width="10.60" height="10.58" fill="#00008f"/>
<rect x="297.90" y="322.14" width="10.60" height="10.58" fill="#0000af"/>
<rect x="307.50" y="322.14" width="87.40" height="10.58" fill="#00008f"/>
<rect x="-0.70" y="331.72" width="50.00" height="10.58" fill="#00008f"/>
<rect x="48.30" y="331.72" width="10.60" height="10.58" fill="#ff0000"/>
<rect x="57.90" y="331.72" width="10.60" height="10.58" fill="#bf0000"/>
<rect x="67.50" y="331.72" width="39.40" height="10.58" fill="#cf0000"/>
<rect x="105.90" y="331.72" width="10.60" height="10.58" fill="#0000af"/>
<rect x="115.50" y="331.72" width="20.20" height="10.58" fill="#00008f"/>
<rect x="134.70" y="331.72" width="10.60" height="10.58" fill="#ff0000"/>
<rect x="144.30" y="331.72" width="10.60" height="10.58" fill="#0000ff"/>
<rect x="153.90" y="331.72" width="10.60" height="10.58" fill="#00008f"/>
<rect x="163.50" y="331.72" width="10.60" height="10.58" fill="#ff0000"/>
<rect x="173.10" y="331.72" width="10.60" height="10.58" fill="#00ffff"/>
<rect x="182.70" y="331.72" width="10.60" height="10.58" fill="#0080ff"/>
<rect x="192.30" y="331.72" width="10.60" height="10.58" fill="#ffbf00"/>
<rect x="201.90" y="331.72" width="20.20" height="10.58" fill="#ff8000"/>
<rect x="221.10" y="331.72" width="20.20" height="10.58" fill="#00ffff"/>
<rect x="240.30" y="331.72" width="20.20" height="10.58" fill="#80ff80"/>
<rect x="259.50" y="331.72" width="10.60" height="10.58" fill="#bfff40"/>
<rect x="269.10" y="331.72" width="10.60" height="10.58" fill="#80ff80"/>
<rect x="278.70" y="331.72" width="10.60" height="10.58" fill="#00ffff"/>
<rect x="288.30" y="331.72" width="20.20" height="10.58" fill="#00bfff"/>
<rect x="307.50" y="331.72" width="10.60" height="10.58" fill="#00ffff"/>
<rect x="317.10" y="331.72" width="77.80" height="10.58" fill="#00008f"/>
<rect x="-0.70" y="341.31" width="50.00" height="10.58" fill="#00008f"/>
<rect x="48.30" y="341.31" width="29.80" height="10.58" fill="#cf0000"/>
<rect x="77.10" y="341.31" width="10.60" height="10.58" fill="#bf0000"/>
<rect x="86.70" y="341.31" width="10.60" height="10.58" fill="#cf0000"/>
<rect x="96.30" y="341.31" width="10.60" height="10.58" fill="#ff0000"/>
<rect x="105.90" y="341.31" width="20.20" height="10.58" fill="#0000af"/>
<rect x="125.10" y="341.31" width="10.60" height="10.58" fill="#ff4000"/>
<rect x="134.70" y="341.31" width="10.60" height="10.58" fill="#ff0000"/>
<rect x="144.30" y="341.31" width="10.60" height="10.58" fill="#cf0000"/>
<rect x="153.90" y="341.31" width="20.20" height="10.58" fill="#bf0000"/>
<rect x="173.10" y="341.31" width="20.20" height="10.58" fill="#00bfff"/>
<rect x="192.30" y="341.31" width="10.60" height="10.58" fill="#0040ff"/>
<rect x="201.90" y="341.31" width="10.60" height="10.58" fill="#ffbf00"/>
<rect x="211.50" y="341.31" width="10.60" height="10.58" fill="#80ff80"/>
<rect x="221.10" y="341.31" width="39.40" height="10.58" fill="#00ffff"/>
<rect x="259.50" y="341.31" width="10.60" height="10.58" fill="#bfff40"/>
<rect x="269.10" y="341.31" width="20.20" height="10.58" fill="#00ffff"/>
<rect x="288.30" y="341.31" width="29.80" height="10.58" fill="#40ffbf"/>
<rect x="317.10" y="341.31" width="10.60" height="10.58" fill="#00ffff"/>
<rect x="326.70" y="341.31" width="68.20" height="10.58" fill="#00008f"/>
<rect x="-0.70" y="350.89" width="59.60" height="10.58" fill="#00008f"/>
<rect x="57.90" y="350.89" width="20.20" height="10.58" fill="#cf0000"/>
<rect x="77.10" y="350.89" width="10.60" height="10.58" fill="#ff0000"/>
<rect x="86.70" y="350.89" width="10.60" height="10.58" fill="#ff4000"/>
<rect x="96.30" y="350.89" width="10.60" height="10.58" fill="#00008f"/>
<rect x="105.90" y="350.89" width="20.20" height="10.58" fill="#0000af"/>
<rect x="125.10" y="350.89" width="10.60" height="10.58" fill="#ff0000"/>
<rect x="134.70" y="350.89" width="10.60" height="10.58" fill="#ffbf00"/>
<rect x="144.30" y="350.89" width="10.60" height="10.58" fill="#ff0000"/>
<rect x="153.90" y="350.89" width="20.20" height="10.58" fill="#cf0000"/>
<rect x="173.10" y="350.89" width="10.60" height="10.58" fill="#ff4000"/>
<rect x="182.70" y="350.89" width="10.60" height="10.58" fill="#00bfff"/>
<rect x="192.30" y="350.89" width="10.60" height="10.58" fill="#0000af"/>
<rect x="201.90" y="350.89" width="20.20" height="10.58" fill="#00008f"/>
<rect x="221.10" y="350.89" width="10.60" height="10.58" fill="#00ffff"/>
<rect x="230.70" y="350.89" width="10.60" height="10.58" fill="#00bfff"/>
<rect x="240.30" y="350.89" width="10.60" height="10.58" fill="#00ffff"/>
<rect x="249.90" y="350.89" width="10.60" height="10.58" fill="#0000ff"/>
<rect x="259.50" y="350.89" width="10.60" height="10.58" fill="#40ffbf"/>
<rect x="269.10" y="350.89" width="10.60" height="10.58" fill="#00ffff"/>
<rect x="278.70" y="350.89" width="10.60" height="10.58" fill="#00bfff"/>
<rect x="288.30" y="350.89" width="10.60" height="10.58" fill="#00ffff"/>
<rect x="297.90" y="350.89" width="10.60" height="10.58" fill="#00bfff"/>
<rect x="307.50" y="350.89" width="10.60" height="10.58" fill="#00ffff"/>
<rect x="317.10" y="350.89" width="10.60" height="10.58" fill="#0000ff"/>
<rect x="326.70" y="350.89" width="68.20" height="10.58" fill="#00008f"/>
<rect x="-0.70" y="360.48" width="78.80" height="10.58" fill="#00008f"/>
<rect x="77.10" y="360.48" width="10.60" height="10.58" fill="#ff0000"/>
<rect x="86.70" y="360.48" width="10.60" height="10.58" fill="#ff4000"/>
<rect x="96.30" y="360.48" width="10.60" height="10.58" fill="#00008f"/>
<rect x="105.90" y="360.48" width="20.20" height="10.58" fill="#0000af"/>
<rect x="125.10" y="360.48" width="10.60" height="10.58" fill="#ff0000"/>
<rect x="134.70" y="360.48" width="10.60" height="10.58" fill="#ff4000"/>
<rect x="144.30" y="360.48" width="39.40" height="10.58" fill="#ff0000"/>
<rect x="182.70" y="360.48" width="49.00" height="10.58" fill="#00008f"/>
<rect x="230.70" y="360.48" width="10.60" height="10.58" fill="#0080ff"/>
<rect x="240.30" y="360.48" width="10.60" height="10.58" fill="#00bfff"/>
<rect x="249.90" y="360.48" width="20.20" height="10.58" fill="#00ffff"/>
<rect x="269.10" y="360.48" width="10.60" height="10.58" fill="#0000ff"/>
<rect x="278.70" y="360.48" width="20.20" height="10.58" fill="#00bfff"/>
<rect x="297.90" y="360.48" width="10.60" height="10.58" fill="#0080ff"/>
<rect x="307.50" y="360.48" width="10.60" height="10.58" fill="#00ffff"/>
<rect x="317.10" y="360.48" width="10.60" height="10.58" fill="#00bfff"/>
<rect x="326.70" y="360.48" width="68.20" height="10.58" fill="#00008f"/>
<rect x="-0.70" y="370.06" width="98.00" height="10.58" fill="#00008f"/>
<rect x="96.30" y="370.06" width="10.60" height="10.58" fill="#ff0000"/>
<rect x="105.90" y="370.06" width="10.60" height="10.58" fill="#00008f"/>
<rect x="115.50" y="370.06" width="10.60" height="10.58" fill="#00ffff"/>
<rect x="125.10" y="370.06" width="10.60" height="10.58" fill="#ff8000"/>
<rect x="134.70" y="370.06" width="10.60" height="10.58" fill="#ff0000"/>
<rect x="144.30" y="370.06" width="10.60" height="10.58" fill="#ff4000"/>
<rect x="153.90" y="370.06" width="10.60" height="10.58" fill="#ff0000"/>
<rect x="163.50" y="370.06" width="10.60" height="10.58" fill="#ff4000"/>
<rect x="173.10" y="370.06" width="10.60" height="10.58" fill="#ffbf00"/>
<rect x="182.70" y="370.06" width="87.40" height="10.58" fill="#00008f"/>
<rect x="269.10" y="370.06" width="20.20" height="10.58" fill="#0040ff"/>
<rect x="288.30" y="370.06" width="20.20" height="10.58" fill="#0080ff"/>
<rect x="307.50" y="370.06" width="10.60" height="10.58" fill="#0040ff"/>
<rect x="317.10" y="370.06" width="77.80" height="10.58" fill="#00008f"/>
<rect x="-0.70" y="379.65" width="117.20" height="10.58" fill="#00008f"/>
<rect x="115.50" y="379.65" width="10.60" height="10.58" fill="#ff0000"/>
<rect x="125.10" y="379.65" width="20.20" height="10.58" fill="#ffbf00"/>
<rect x="144.30" y="379.65" width="20.20" height="10.58" fill="#ff4000"/>
<rect x="163.50" y="379.65" width="39.40" height="10.58" fill="#00008f"/>
<rect x="201.90" y="379.65" width="20.20" height="10.58" fill="#0000af"/>
<rect x="221.10" y="379.65" width="39.40" height="10.58" fill="#00008f"/>
<rect x="259.50" y="379.65" width="10.60" height="10.58" fill="#0000ff"/>
<rect x="269.10" y="379.65" width="10.60" height="10.58" fill="#0040ff"/>
<rect x="278.70" y="379.65" width="10.60" height="10.58" fill="#0080ff"/>
<rect x="288.30" y="379.65" width="10.60" height="10.58" fill="#0040ff"/>
<rect x="297.90" y="379.65" width="97.00" height="10.58" fill="#00008f"/>
<rect x="-0.70" y="389.23" width="107.60" height="10.58" fill="#00008f"/>
<rect x="105.90" y="389.23" width="29.80" height="10.58" fill="#ff0000"/>
<rect x="134.70" y="389.23" width="20.20" height="10.58" fill="#ffff00"/>
<rect x="153.90" y="389.23" width="10.60" height="10.58" fill="#bfff40"/>
<rect x="163.50" y="389.23" width="10.60" height="10.58" fill="#ffbf00"/>
<rect x="173.10" y="389.23" width="10.60" height="10.58" fill="#ff8000"/>
<rect x="182.70" y="389.23" width="20.20" height="10.58" fill="#00008f"/>
<rect x="201.90" y="389.23" width="10.60" height="10.58" fill="#ffdf00"/>
<rect x="211.50" y="389.23" width="10.60" height="10.58" fill="#0000af"/>
<rect x="221.10" y="389.23" width="39.40" height="10.58" fill="#00008f"/>
<rect x="259.50" y="389.23" width="10.60" height="10.58" fill="#0000ff"/>
<rect x="269.10" y="389.23" width="10.60" height="10.58" fill="#0040ff"/>
<rect x="278.70" y="389.23" width="116.20" height="10.58" fill="#00008f"/>
<rect x="-0.70" y="398.82" width="146.00" height="10.58" fill="#00008f"/>
<rect x="144.30" y="398.82" width="10.60" height="10.58" fill="#ffbf00"/>
<rect x="153.90" y="398.82" width="10.60" height="10.58" fill="#00008f"/>
<rect x="163.50" y="398.82" width="10.60" height="10.58" fill="#ffff00"/>
<rect x="173.10" y="398.82" width="10.60" height="10.58" fill="#bf0000"/>
<rect x="182.70" y="398.82" width="10.60" height="10.58" fill="#00008f"/>
<rect x="192.30" y="398.82" width="10.60" height="10.58" fill="#0000ff"/>
<rect x="201.90" y="398.82" width="10.60" height="10.58" fill="#00008f"/>
<rect x="211.50" y="398.82" width="10.60" height="10.58" fill="#0000af"/>
<rect x="221.10" y="398.82" width="173.80" height="10.58" fill="#00008f"/>
<rect x="-0.70" y="408.40" width="395.60" height="10.58" fill="#00008f"/>
</g>
<clipPath id="cr"><rect x="519" y="24" width="390" height="388"/></clipPath>
<g clip-path="url(#cr)">
<rect x="518.10" y="22.80" width="144.58" height="11.47" fill="#00008f"/>
<rect x="661.68" y="22.80" width="20.01" height="11.47" fill="#40ffbf"/>
<rect x="680.69" y="22.80" width="10.50" height="11.47" fill="#80ff80"/>
<rect x="690.19" y="22.80" width="10.50" height="11.47" fill="#0040ff"/>
<rect x="699.70" y="22.80" width="10.50" height="11.47" fill="#0000af"/>
<rect x="709.20" y="22.80" width="10.50" height="11.47" fill="#00008f"/>
<rect x="718.71" y="22.80" width="10.50" height="11.47" fill="#40ffbf"/>
<rect x="728.21" y="22.80" width="10.50" height="11.47" fill="#80ff80"/>
<rect x="737.72" y="22.80" width="20.01" height="11.47" fill="#bfff40"/>
<rect x="756.73" y="22.80" width="10.50" height="11.47" fill="#40ffbf"/>
<rect x="766.23" y="22.80" width="143.58" height="11.47" fill="#00008f"/>
<rect x="518.10" y="33.27" width="116.06" height="10.47" fill="#00008f"/>
<rect x="633.16" y="33.27" width="10.50" height="10.47" fill="#0080ff"/>
<rect x="642.67" y="33.27" width="10.50" height="10.47" fill="#00ffff"/>
<rect x="652.17" y="33.27" width="10.50" height="10.47" fill="#40ffbf"/>
<rect x="661.68" y="33.27" width="29.51" height="10.47" fill="#80ff80"/>
<rect x="690.19" y="33.27" width="10.50" height="10.47" fill="#40ffbf"/>
<rect x="699.70" y="33.27" width="10.50" height="10.47" fill="#00bfff"/>
<rect x="709.20" y="33.27" width="10.50" height="10.47" fill="#00008f"/>
<rect x="718.71" y="33.27" width="10.50" height="10.47" fill="#40ffbf"/>
<rect x="728.21" y="33.27" width="10.50" height="10.47" fill="#80ff80"/>
<rect x="737.72" y="33.27" width="10.50" height="10.47" fill="#40ffbf"/>
<rect x="747.22" y="33.27" width="10.50" height="10.47" fill="#80ff80"/>
<rect x="756.73" y="33.27" width="10.50" height="10.47" fill="#00ffff"/>
<rect x="766.23" y="33.27" width="10.51" height="10.47" fill="#ffff00"/>
<rect x="775.74" y="33.27" width="10.50" height="10.47" fill="#ff8000"/>
<rect x="785.24" y="33.27" width="124.57" height="10.47" fill="#00008f"/>
<rect x="518.10" y="42.74" width="106.55" height="10.47" fill="#00008f"/>
<rect x="623.65" y="42.74" width="10.51" height="10.47" fill="#ff4000"/>
<rect x="633.16" y="42.74" width="10.50" height="10.47" fill="#0040ff"/>
<rect x="642.67" y="42.74" width="10.50" height="10.47" fill="#00bfff"/>
<rect x="652.17" y="42.74" width="20.01" height="10.47" fill="#40ffbf"/>
<rect x="671.18" y="42.74" width="10.50" height="10.47" fill="#80ff80"/>
<rect x="680.69" y="42.74" width="10.50" height="10.47" fill="#40ffbf"/>
<rect x="690.19" y="42.74" width="10.50" height="10.47" fill="#00ffff"/>
<rect x="699.70" y="42.74" width="10.50" height="10.47" fill="#0000af"/>
<rect x="709.20" y="42.74" width="20.01" height="10.47" fill="#ff4000"/>
<rect x="728.21" y="42.74" width="10.50" height="10.47" fill="#0080ff"/>
<rect x="737.72" y="42.74" width="20.01" height="10.47" fill="#ffbf00"/>
<rect x="756.73" y="42.74" width="10.50" height="10.47" fill="#80ff80"/>
<rect x="766.23" y="42.74" width="10.51" height="10.47" fill="#ffbf00"/>
<rect x="775.74" y="42.74" width="20.01" height="10.47" fill="#ff0000"/>
<rect x="794.75" y="42.74" width="20.01" height="10.47" fill="#cf0000"/>
<rect x="813.76" y="42.74" width="96.05" height="10.47" fill="#00008f"/>
<rect x="518.10" y="52.21" width="87.54" height="10.47" fill="#00008f"/>
<rect x="604.64" y="52.21" width="20.01" height="10.47" fill="#ff8000"/>
<rect x="623.65" y="52.21" width="10.51" height="10.47" fill="#ff4000"/>
<rect x="633.16" y="52.21" width="20.01" height="10.47" fill="#0000ff"/>
<rect x="652.17" y="52.21" width="20.01" height="10.47" fill="#ff8000"/>
<rect x="671.18" y="52.21" width="10.50" height="10.47" fill="#00ffff"/>
<rect x="680.69" y="52.21" width="10.50" height="10.47" fill="#80ff80"/>
<rect x="690.19" y="52.21" width="10.50" height="10.47" fill="#00008f"/>
<rect x="699.70" y="52.21" width="39.02" height="10.47" fill="#ff4000"/>
<rect x="737.72" y="52.21" width="10.50" height="10.47" fill="#ffbf00"/>
<rect x="747.22" y="52.21" width="10.50" height="10.47" fill="#ff8000"/>
<rect x="756.73" y="52.21" width="10.50" height="10.47" fill="#ff4000"/>
<rect x="766.23" y="52.21" width="29.52" height="10.47" fill="#ff0000"/>
<rect x="794.75" y="52.21" width="10.50" height="10.47" fill="#cf0000"/>
<rect x="804.25" y="52.21" width="29.52" height="10.47" fill="#ff0000"/>
<rect x="832.77" y="52.21" width="77.04" height="10.47" fill="#00008f"/>
<rect x="518.10" y="61.68" width="78.04" height="10.47" fill="#00008f"/>
<rect x="595.14" y="61.68" width="10.50" height="10.47" fill="#00ffff"/>
<rect x="604.64" y="61.68" width="10.51" height="10.47" fill="#ff8000"/>
<rect x="614.15" y="61.68" width="10.50" height="10.47" fill="#ff4000"/>
<rect x="623.65" y="61.68" width="29.52" height="10.47" fill="#ff0000"/>
<rect x="652.17" y="61.68" width="10.50" height="10.47" fill="#ff4000"/>
<rect x="661.68" y="61.68" width="10.50" height="10.47" fill="#ffbf00"/>
<rect x="671.18" y="61.68" width="10.50" height="10.47" fill="#ffff00"/>
<rect x="680.69" y="61.68" width="20.01" height="10.47" fill="#ff8000"/>
<rect x="699.70" y="61.68" width="20.01" height="10.47" fill="#ff4000"/>
<rect x="718.71" y="61.68" width="10.50" height="10.47" fill="#ff0000"/>
<rect x="728.21" y="61.68" width="20.01" height="10.47" fill="#ff8000"/>
<rect x="747.22" y="61.68" width="10.50" height="10.47" fill="#ff4000"/>
<rect x="756.73" y="61.68" width="10.50" height="10.47" fill="#ff0000"/>
<rect x="766.23" y="61.68" width="20.01" height="10.47" fill="#cf0000"/>
<rect x="785.24" y="61.68" width="29.52" height="10.47" fill="#ff0000"/>
<rect x="813.76" y="61.68" width="10.50" height="10.47" fill="#ff4000"/>
<rect x="823.26" y="61.68" width="10.51" height="10.47" fill="#0000ff"/>
<rect x="832.77" y="61.68" width="10.50" height="10.47" fill="#ffff00"/>
<rect x="842.27" y="61.68" width="67.54" height="10.47" fill="#00008f"/>
<rect x="518.10" y="71.15" width="87.54" height="10.47" fill="#00008f"/>
<rect x="604.64" y="71.15" width="10.51" height="10.47" fill="#ff8000"/>
<rect x="614.15" y="71.15" width="10.50" height="10.47" fill="#ff4000"/>
<rect x="623.65" y="71.15" width="29.52" height="10.47" fill="#ff0000"/>
<rect x="652.17" y="71.15" width="10.50" height="10.47" fill="#ff4000"/>
<rect x="661.68" y="71.15" width="10.50" height="10.47" fill="#ffbf00"/>
<rect x="671.18" y="71.15" width="10.50" height="10.47" fill="#ffff00"/>
<rect x="680.69" y="71.15" width="20.01" height="10.47" fill="#ff8000"/>
<rect x="699.70" y="71.15" width="10.50" height="10.47" fill="#ff4000"/>
<rect x="709.20" y="71.15" width="10.50" height="10.47" fill="#ff0000"/>
<rect x="718.71" y="71.15" width="10.50" height="10.47" fill="#ff4000"/>
<rect x="728.21" y="71.15" width="20.01" height="10.47" fill="#cf0000"/>
<rect x="747.22" y="71.15" width="29.52" height="10.47" fill="#ff0000"/>
<rect x="775.74" y="71.15" width="20.01" height="10.47" fill="#cf0000"/>
<rect x="794.75" y="71.15" width="10.50" height="10.47" fill="#ff0000"/>
<rect x="804.25" y="71.15" width="20.01" height="10.47" fill="#ff4000"/>
<rect x="823.26" y="71.15" width="10.51" height="10.47" fill="#bfff40"/>
<rect x="832.77" y="71.15" width="10.50" height="10.47" fill="#0080ff"/>
<rect x="842.27" y="71.15" width="10.51" height="10.47" fill="#00ffff"/>
<rect x="851.78" y="71.15" width="58.03" height="10.47" fill="#00008f"/>
<rect x="518.10" y="80.62" width="78.04" height="10.47" fill="#00008f"/>
<rect x="595.14" y="80.62" width="10.50" height="10.47" fill="#00ffff"/>
<rect x="604.64" y="80.62" width="10.51" height="10.47" fill="#ff8000"/>
<rect x="614.15" y="80.62" width="10.50" height="10.47" fill="#ff4000"/>
<rect x="623.65" y="80.62" width="29.52" height="10.47" fill="#ff0000"/>
<rect x="652.17" y="80.62" width="10.50" height="10.47" fill="#ff4000"/>
<rect x="661.68" y="80.62" width="20.01" height="10.47" fill="#ffbf00"/>
<rect x="680.69" y="80.62" width="20.01" height="10.47" fill="#ff8000"/>
<rect x="699.70" y="80.62" width="29.51" height="10.47" fill="#ff0000"/>
<rect x="728.21" y="80.62" width="29.51" height="10.47" fill="#cf0000"/>
<rect x="756.73" y="80.62" width="20.01" height="10.47" fill="#ff0000"/>
<rect x="775.74" y="80.62" width="20.01" height="10.47" fill="#cf0000"/>
<rect x="794.75" y="80.62" width="10.50" height="10.47" fill="#ff0000"/>
<rect x="804.25" y="80.62" width="20.01" height="10.47" fill="#ff4000"/>
<rect x="823.26" y="80.62" width="10.51" height="10.47" fill="#bfff40"/>
<rect x="832.77" y="80.62" width="10.50" height="10.47" fill="#40ffbf"/>
<rect x="842.27" y="80.62" width="10.51" height="10.47" fill="#00ffff"/>
<rect x="851.78" y="80.62" width="10.50" height="10.47" fill="#0080ff"/>
<rect x="861.28" y="80.62" width="48.53" height="10.47" fill="#00008f"/>
<rect x="518.10" y="90.09" width="49.52" height="10.47" fill="#00008f"/>
<rect x="566.62" y="90.09" width="20.01" height="10.47" fill="#ff8000"/>
<rect x="585.63" y="90.09" width="10.50" height="10.47" fill="#00008f"/>
<rect x="595.14" y="90.09" width="10.50" height="10.47" fill="#ffbf00"/>
<rect x="604.64" y="90.09" width="20.01" height="10.47" fill="#ff8000"/>
<rect x="623.65" y="90.09" width="20.01" height="10.47" fill="#ff0000"/>
<rect x="642.67" y="90.09" width="10.50" height="10.47" fill="#ff4000"/>
<rect x="652.17" y="90.09" width="10.50" height="10.47" fill="#ff8000"/>
<rect x="661.68" y="90.09" width="29.51" height="10.47" fill="#ffbf00"/>
<rect x="690.19" y="90.09" width="29.51" height="10.47" fill="#ff0000"/>
<rect x="718.71" y="90.09" width="10.50" height="10.47" fill="#cf0000"/>
<rect x="728.21" y="90.09" width="20.01" height="10.47" fill="#bf0000"/>
<rect x="747.22" y="90.09" width="20.01" height="10.47" fill="#cf0000"/>
<rect x="766.23" y="90.09" width="10.51" height="10.47" fill="#ff8000"/>
<rect x="775.74" y="90.09" width="20.01" height="10.47" fill="#ff4000"/>
<rect x="794.75" y="90.09" width="10.50" height="10.47" fill="#ff0000"/>
<rect x="804.25" y="90.09" width="10.51" height="10.47" fill="#bfff40"/>
<rect x="813.76" y="90.09" width="10.50" height="10.47" fill="#ff4000"/>
<rect x="823.26" y="90.09" width="10.51" height="10.47" fill="#bfff40"/>
<rect x="832.77" y="90.09" width="10.50" height="10.47" fill="#80ff80"/>
<rect x="842.27" y="90.09" width="10.51" height="10.47" fill="#40ffbf"/>
<rect x="851.78" y="90.09" width="10.50" height="10.47" fill="#0040ff"/>
<rect x="861.28" y="90.09" width="48.53" height="10.47" fill="#00008f"/>
<rect x="518.10" y="99.56" width="40.02" height="10.47" fill="#00008f"/>
<rect x="557.12" y="99.56" width="29.51" height="10.47" fill="#ff8000"/>
<rect x="585.63" y="99.56" width="20.01" height="10.47" fill="#00008f"/>
<rect x="604.64" y="99.56" width="10.51" height="10.47" fill="#00ffff"/>
<rect x="614.15" y="99.56" width="20.01" height="10.47" fill="#ff8000"/>
<rect x="633.16" y="99.56" width="20.01" height="10.47" fill="#ff4000"/>
<rect x="652.17" y="99.56" width="10.50" height="10.47" fill="#ff8000"/>
<rect x="661.68" y="99.56" width="10.50" height="10.47" fill="#0040ff"/>
<rect x="671.18" y="99.56" width="10.50" height="10.47" fill="#00bfff"/>
<rect x="680.69" y="99.56" width="10.50" height="10.47" fill="#0080ff"/>
<rect x="690.19" y="99.56" width="20.01" height="10.47" fill="#ff0000"/>
<rect x="709.20" y="99.56" width="10.50" height="10.47" fill="#bf0000"/>
<rect x="718.71" y="99.56" width="10.50" height="10.47" fill="#cf0000"/>
<rect x="728.21" y="99.56" width="20.01" height="10.47" fill="#bf0000"/>
<rect x="747.22" y="99.56" width="20.01" height="10.47" fill="#cf0000"/>
<rect x="766.23" y="99.56" width="10.51" height="10.47" fill="#ff4000"/>
<rect x="775.74" y="99.56" width="20.01" height="10.47" fill="#ff8000"/>
<rect x="794.75" y="99.56" width="10.50" height="10.47" fill="#ffff00"/>
<rect x="804.25" y="99.56" width="10.51" height="10.47" fill="#bfff40"/>
<rect x="813.76" y="99.56" width="10.50" height="10.47" fill="#80ff80"/>
<rect x="823.26" y="99.56" width="10.51" height="10.47" fill="#bfff40"/>
<rect x="832.77" y="99.56" width="10.50" height="10.47" fill="#80ff80"/>
<rect x="842.27" y="99.56" width="20.01" height="10.47" fill="#40ffbf"/>
<rect x="861.28" y="99.56" width="48.53" height="10.47" fill="#00008f"/>
<rect x="518.10" y="109.03" width="30.51" height="10.47" fill="#00008f"/>
<rect x="547.62" y="109.03" width="10.50" height="10.47" fill="#ff8000"/>
<rect x="557.12" y="109.03" width="20.01" height="10.47" fill="#ff4000"/>
<rect x="576.13" y="109.03" width="20.01" height="10.47" fill="#ff8000"/>
<rect x="595.14" y="109.03" width="20.01" height="10.47" fill="#00008f"/>
<rect x="614.15" y="109.03" width="29.51" height="10.47" fill="#ffbf00"/>
<rect x="642.67" y="109.03" width="20.01" height="10.47" fill="#ff8000"/>
<rect x="661.68" y="109.03" width="20.01" height="10.47" fill="#00008f"/>
<rect x="680.69" y="109.03" width="20.01" height="10.47" fill="#ff8000"/>
<rect x="699.70" y="109.03" width="20.01" height="10.47" fill="#ff0000"/>
<rect x="718.71" y="109.03" width="39.02" height="10.47" fill="#cf0000"/>
<rect x="756.73" y="109.03" width="39.02" height="10.47" fill="#ff4000"/>
<rect x="794.75" y="109.03" width="20.01" height="10.47" fill="#0040ff"/>
<rect x="813.76" y="109.03" width="10.50" height="10.47" fill="#40ffbf"/>
<rect x="823.26" y="109.03" width="20.01" height="10.47" fill="#00ffff"/>
<rect x="842.27" y="109.03" width="10.51" height="10.47" fill="#40ffbf"/>
<rect x="851.78" y="109.03" width="10.50" height="10.47" fill="#00ffff"/>
<rect x="861.28" y="109.03" width="48.53" height="10.47" fill="#00008f"/>
<rect x="518.10" y="118.50" width="21.01" height="10.47" fill="#00008f"/>
<rect x="538.11" y="118.50" width="20.01" height="10.47" fill="#ff4000"/>
<rect x="557.12" y="118.50" width="29.51" height="10.47" fill="#ff0000"/>
<rect x="585.63" y="118.50" width="10.50" height="10.47" fill="#ff8000"/>
<rect x="595.14" y="118.50" width="58.03" height="10.47" fill="#00008f"/>
<rect x="652.17" y="118.50" width="10.50" height="10.47" fill="#ff8000"/>
<rect x="661.68" y="118.50" width="20.01" height="10.47" fill="#00008f"/>
<rect x="680.69" y="118.50" width="10.50" height="10.47" fill="#40ffbf"/>
<rect x="690.19" y="118.50" width="39.02" height="10.47" fill="#ff0000"/>
<rect x="728.21" y="118.50" width="29.51" height="10.47" fill="#cf0000"/>
<rect x="756.73" y="118.50" width="29.51" height="10.47" fill="#ff4000"/>
<rect x="785.24" y="118.50" width="10.51" height="10.47" fill="#bfff40"/>
<rect x="794.75" y="118.50" width="10.50" height="10.47" fill="#0040ff"/>
<rect x="804.25" y="118.50" width="10.51" height="10.47" fill="#0080ff"/>
<rect x="813.76" y="118.50" width="20.01" height="10.47" fill="#00bfff"/>
<rect x="832.77" y="118.50" width="10.50" height="10.47" fill="#00ffff"/>
<rect x="842.27" y="118.50" width="10.51" height="10.47" fill="#0000ff"/>
<rect x="851.78" y="118.50" width="10.50" height="10.47" fill="#0080ff"/>
<rect x="861.28" y="118.50" width="48.53" height="10.47" fill="#00008f"/>
<rect x="518.10" y="127.97" width="21.01" height="10.47" fill="#00008f"/>
<rect x="538.11" y="127.97" width="29.51" height="10.47" fill="#cf0000"/>
<rect x="566.62" y="127.97" width="10.50" height="10.47" fill="#bf0000"/>
<rect x="576.13" y="127.97" width="10.50" height="10.47" fill="#cf0000"/>
<rect x="585.63" y="127.97" width="20.01" height="10.47" fill="#ff8000"/>
<rect x="604.64" y="127.97" width="10.51" height="10.47" fill="#00008f"/>
<rect x="614.15" y="127.97" width="10.50" height="10.47" fill="#0000ff"/>
<rect x="623.65" y="127.97" width="29.52" height="10.47" fill="#00008f"/>
<rect x="652.17" y="127.97" width="10.50" height="10.47" fill="#0000ff"/>
<rect x="661.68" y="127.97" width="20.01" height="10.47" fill="#00008f"/>
<rect x="680.69" y="127.97" width="10.50" height="10.47" fill="#00ffff"/>
<rect x="690.19" y="127.97" width="20.01" height="10.47" fill="#ff8000"/>
<rect x="709.20" y="127.97" width="20.01" height="10.47" fill="#ff4000"/>
<rect x="728.21" y="127.97" width="29.51" height="10.47" fill="#ff0000"/>
<rect x="756.73" y="127.97" width="10.50" height="10.47" fill="#ff4000"/>
<rect x="766.23" y="127.97" width="10.51" height="10.47" fill="#ff8000"/>
<rect x="775.74" y="127.97" width="10.50" height="10.47" fill="#00008f"/>
<rect x="785.24" y="127.97" width="29.52" height="10.47" fill="#00009f"/>
<rect x="813.76" y="127.97" width="96.05" height="10.47" fill="#00008f"/>
<rect x="518.10" y="137.44" width="11.50" height="10.47" fill="#00008f"/>
<rect x="528.61" y="137.44" width="10.50" height="10.47" fill="#ff0000"/>
<rect x="538.11" y="137.44" width="20.01" height="10.47" fill="#cf0000"/>
<rect x="557.12" y="137.44" width="10.50" height="10.47" fill="#bf0000"/>
<rect x="566.62" y="137.44" width="10.50" height="10.47" fill="#cf0000"/>
<rect x="576.13" y="137.44" width="10.50" height="10.47" fill="#ff0000"/>
<rect x="585.63" y="137.44" width="10.50" height="10.47" fill="#ff8000"/>
<rect x="595.14" y="137.44" width="10.50" height="10.47" fill="#ffbf00"/>
<rect x="604.64" y="137.44" width="10.51" height="10.47" fill="#0080ff"/>
<rect x="614.15" y="137.44" width="39.02" height="10.47" fill="#0040ff"/>
<rect x="652.17" y="137.44" width="20.01" height="10.47" fill="#0000ff"/>
<rect x="671.18" y="137.44" width="20.01" height="10.47" fill="#00008f"/>
<rect x="690.19" y="137.44" width="10.50" height="10.47" fill="#00ffff"/>
<rect x="699.70" y="137.44" width="10.50" height="10.47" fill="#ff8000"/>
<rect x="709.20" y="137.44" width="67.54" height="10.47" fill="#ff4000"/>
<rect x="775.74" y="137.44" width="134.07" height="10.47" fill="#00008f"/>
<rect x="518.10" y="146.91" width="11.50" height="10.47" fill="#00008f"/>
<rect x="528.61" y="146.91" width="20.01" height="10.47" fill="#ff0000"/>
<rect x="547.62" y="146.91" width="10.50" height="10.47" fill="#cf0000"/>
<rect x="557.12" y="146.91" width="10.50" height="10.47" fill="#bf0000"/>
<rect x="566.62" y="146.91" width="10.50" height="10.47" fill="#cf0000"/>
<rect x="576.13" y="146.91" width="10.50" height="10.47" fill="#ff0000"/>
<rect x="585.63" y="146.91" width="10.50" height="10.47" fill="#ff8000"/>
<rect x="595.14" y="146.91" width="10.50" height="10.47" fill="#ffbf00"/>
<rect x="604.64" y="146.91" width="20.01" height="10.47" fill="#0080ff"/>
<rect x="623.65" y="146.91" width="10.51" height="10.47" fill="#0040ff"/>
<rect x="633.16" y="146.91" width="10.50" height="10.47" fill="#0080ff"/>
<rect x="642.67" y="146.91" width="10.50" height="10.47" fill="#0040ff"/>
<rect x="652.17" y="146.91" width="10.50" height="10.47" fill="#0080ff"/>
<rect x="661.68" y="146.91" width="10.50" height="10.47" fill="#0040ff"/>
<rect x="671.18" y="146.91" width="10.50" height="10.47" fill="#ff0000"/>
<rect x="680.69" y="146.91" width="10.50" height="10.47" fill="#ff4000"/>
<rect x="690.19" y="146.91" width="10.50" height="10.47" fill="#0000af"/>
<rect x="699.70" y="146.91" width="10.50" height="10.47" fill="#cf0000"/>
<rect x="709.20" y="146.91" width="10.50" height="10.47" fill="#ff0000"/>
<rect x="718.71" y="146.91" width="20.01" height="10.47" fill="#ff4000"/>
<rect x="737.72" y="146.91" width="10.50" height="10.47" fill="#ff0000"/>
<rect x="747.22" y="146.91" width="10.50" height="10.47" fill="#ff8000"/>
<rect x="756.73" y="146.91" width="86.54" height="10.47" fill="#00008f"/>
<rect x="842.27" y="146.91" width="10.51" height="10.47" fill="#00009f"/>
<rect x="851.78" y="146.91" width="58.03" height="10.47" fill="#00008f"/>
<rect x="518.10" y="156.38" width="11.50" height="10.47" fill="#00008f"/>
<rect x="528.61" y="156.38" width="20.01" height="10.47" fill="#ff0000"/>
<rect x="547.62" y="156.38" width="10.50" height="10.47" fill="#cf0000"/>
<rect x="557.12" y="156.38" width="10.50" height="10.47" fill="#bf0000"/>
<rect x="566.62" y="156.38" width="10.50" height="10.47" fill="#cf0000"/>
<rect x="576.13" y="156.38" width="20.01" height="10.47" fill="#ff0000"/>
<rect x="595.14" y="156.38" width="20.01" height="10.47" fill="#ffbf00"/>
<rect x="614.15" y="156.38" width="39.02" height="10.47" fill="#0080ff"/>
<rect x="652.17" y="156.38" width="10.50" height="10.47" fill="#ff8000"/>
<rect x="661.68" y="156.38" width="10.50" height="10.47" fill="#ff4000"/>
<rect x="671.18" y="156.38" width="39.02" height="10.47" fill="#cf0000"/>
<rect x="709.20" y="156.38" width="20.01" height="10.47" fill="#ff0000"/>
<rect x="728.21" y="156.38" width="115.06" height="10.47" fill="#00008f"/>
<rect x="842.27" y="156.38" width="20.01" height="10.47" fill="#00009f"/>
<rect x="861.28" y="156.38" width="20.01" height="10.47" fill="#00008f"/>
<rect x="880.29" y="156.38" width="10.50" height="10.47" fill="#40ffbf"/>
<rect x="889.80" y="156.38" width="20.01" height="10.47" fill="#00008f"/>
<rect x="518.10" y="165.85" width="11.50" height="10.47" fill="#00008f"/>
<rect x="528.61" y="165.85" width="20.01" height="10.47" fill="#ff4000"/>
<rect x="547.62" y="165.85" width="10.50" height="10.47" fill="#cf0000"/>
<rect x="557.12" y="165.85" width="39.02" height="10.47" fill="#ff0000"/>
<rect x="595.14" y="165.85" width="10.50" height="10.47" fill="#ffbf00"/>
<rect x="604.64" y="165.85" width="10.51" height="10.47" fill="#0080ff"/>
<rect x="614.15" y="165.85" width="20.01" height="10.47" fill="#0040ff"/>
<rect x="633.16" y="165.85" width="20.01" height="10.47" fill="#0080ff"/>
<rect x="652.17" y="165.85" width="10.50" height="10.47" fill="#ff8000"/>
<rect x="661.68" y="165.85" width="10.50" height="10.47" fill="#ff4000"/>
<rect x="671.18" y="165.85" width="10.50" height="10.47" fill="#cf0000"/>
<rect x="680.69" y="165.85" width="29.51" height="10.47" fill="#bf0000"/>
<rect x="709.20" y="165.85" width="20.01" height="10.47" fill="#ff0000"/>
<rect x="728.21" y="165.85" width="10.50" height="10.47" fill="#ff4000"/>
<rect x="737.72" y="165.85" width="143.58" height="10.47" fill="#00008f"/>
<rect x="880.29" y="165.85" width="10.50" height="10.47" fill="#00ffff"/>
<rect x="889.80" y="165.85" width="10.50" height="10.47" fill="#80ff80"/>
<rect x="899.30" y="165.85" width="10.50" height="10.47" fill="#00008f"/>
<rect x="518.10" y="175.32" width="11.50" height="10.47" fill="#00008f"/>
<rect x="528.61" y="175.32" width="39.02" height="10.47" fill="#ff4000"/>
<rect x="566.62" y="175.32" width="20.01" height="10.47" fill="#ff8000"/>
<rect x="585.63" y="175.32" width="20.01" height="10.47" fill="#ffbf00"/>
<rect x="604.64" y="175.32" width="10.51" height="10.47" fill="#0000af"/>
<rect x="614.15" y="175.32" width="20.01" height="10.47" fill="#0000ff"/>
<rect x="633.16" y="175.32" width="10.50" height="10.47" fill="#0080ff"/>
<rect x="642.67" y="175.32" width="10.50" height="10.47" fill="#0040ff"/>
<rect x="652.17" y="175.32" width="10.50" height="10.47" fill="#80ff80"/>
<rect x="661.68" y="175.32" width="10.50" height="10.47" fill="#ff4000"/>
<rect x="671.18" y="175.32" width="20.01" height="10.47" fill="#cf0000"/>
<rect x="690.19" y="175.32" width="10.50" height="10.47" fill="#bf0000"/>
<rect x="699.70" y="175.32" width="20.01" height="10.47" fill="#cf0000"/>
<rect x="718.71" y="175.32" width="10.50" height="10.47" fill="#ff0000"/>
<rect x="728.21" y="175.32" width="153.08" height="10.47" fill="#00008f"/>
<rect x="880.29" y="175.32" width="10.50" height="10.47" fill="#80ff80"/>
<rect x="889.80" y="175.32" width="10.50" height="10.47" fill="#bfff40"/>
<rect x="899.30" y="175.32" width="10.50" height="10.47" fill="#ffff00"/>
<rect x="518.10" y="184.79" width="11.50" height="10.47" fill="#ffbf00"/>
<rect x="528.61" y="184.79" width="39.02" height="10.47" fill="#ff4000"/>
<rect x="566.62" y="184.79" width="20.01" height="10.47" fill="#ff8000"/>
<rect x="585.63" y="184.79" width="39.02" height="10.47" fill="#00008f"/>
<rect x="623.65" y="184.79" width="10.51" height="10.47" fill="#0000ff"/>
<rect x="633.16" y="184.79" width="20.01" height="10.47" fill="#0080ff"/>
<rect x="652.17" y="184.79" width="10.50" height="10.47" fill="#ff8000"/>
<rect x="661.68" y="184.79" width="10.50" height="10.47" fill="#ff4000"/>
<rect x="671.18" y="184.79" width="10.50" height="10.47" fill="#ff0000"/>
<rect x="680.69" y="184.79" width="29.51" height="10.47" fill="#cf0000"/>
<rect x="709.20" y="184.79" width="10.50" height="10.47" fill="#bf0000"/>
<rect x="718.71" y="184.79" width="10.50" height="10.47" fill="#ff0000"/>
<rect x="728.21" y="184.79" width="153.08" height="10.47" fill="#00008f"/>
<rect x="880.29" y="184.79" width="10.50" height="10.47" fill="#80ff80"/>
<rect x="889.80" y="184.79" width="10.50" height="10.47" fill="#bfff40"/>
<rect x="899.30" y="184.79" width="10.50" height="10.47" fill="#80ff80"/>
<rect x="518.10" y="194.26" width="30.51" height="10.47" fill="#ff8000"/>
<rect x="547.62" y="194.26" width="10.50" height="10.47" fill="#ff4000"/>
<rect x="557.12" y="194.26" width="20.01" height="10.47" fill="#ffbf00"/>
<rect x="576.13" y="194.26" width="39.02" height="10.47" fill="#00008f"/>
<rect x="614.15" y="194.26" width="10.50" height="10.47" fill="#0000af"/>
<rect x="623.65" y="194.26" width="10.51" height="10.47" fill="#80ff80"/>
<rect x="633.16" y="194.26" width="10.50" height="10.47" fill="#0040ff"/>
<rect x="642.67" y="194.26" width="10.50" height="10.47" fill="#bfff40"/>
<rect x="652.17" y="194.26" width="29.51" height="10.47" fill="#ff8000"/>
<rect x="680.69" y="194.26" width="20.01" height="10.47" fill="#ff0000"/>
<rect x="699.70" y="194.26" width="10.50" height="10.47" fill="#bf0000"/>
<rect x="709.20" y="194.26" width="10.50" height="10.47" fill="#ff0000"/>
<rect x="718.71" y="194.26" width="20.01" height="10.47" fill="#ff4000"/>
<rect x="737.72" y="194.26" width="143.58" height="10.47" fill="#00008f"/>
<rect x="880.29" y="194.26" width="10.50" height="10.47" fill="#40ffbf"/>
<rect x="889.80" y="194.26" width="10.50" height="10.47" fill="#bfff40"/>
<rect x="899.30" y="194.26" width="10.50" height="10.47" fill="#40ffbf"/>
<rect x="518.10" y="203.73" width="11.50" height="10.47" fill="#00008f"/>
<rect x="528.61" y="203.73" width="10.50" height="10.47" fill="#0040ff"/>
<rect x="538.11" y="203.73" width="10.50" height="10.47" fill="#40ffbf"/>
<rect x="547.62" y="203.73" width="10.50" height="10.47" fill="#bfff40"/>
<rect x="557.12" y="203.73" width="20.01" height="10.47" fill="#ffbf00"/>
<rect x="576.13" y="203.73" width="29.51" height="10.47" fill="#00008f"/>
<rect x="604.64" y="203.73" width="20.01" height="10.47" fill="#0000af"/>
<rect x="623.65" y="203.73" width="10.51" height="10.47" fill="#ffbf00"/>
<rect x="633.16" y="203.73" width="10.50" height="10.47" fill="#bfff40"/>
<rect x="642.67" y="203.73" width="10.50" height="10.47" fill="#ff8000"/>
<rect x="652.17" y="203.73" width="10.50" height="10.47" fill="#80ff80"/>
<rect x="661.68" y="203.73" width="10.50" height="10.47" fill="#ffbf00"/>
<rect x="671.18" y="203.73" width="10.50" height="10.47" fill="#ff8000"/>
<rect x="680.69" y="203.73" width="10.50" height="10.47" fill="#ff0000"/>
<rect x="690.19" y="203.73" width="20.01" height="10.47" fill="#bf0000"/>
<rect x="709.20" y="203.73" width="10.50" height="10.47" fill="#ff4000"/>
<rect x="718.71" y="203.73" width="10.50" height="10.47" fill="#ff8000"/>
<rect x="728.21" y="203.73" width="124.57" height="10.47" fill="#00008f"/>
<rect x="851.78" y="203.73" width="10.50" height="10.47" fill="#ff4000"/>
<rect x="861.28" y="203.73" width="20.01" height="10.47" fill="#00008f"/>
<rect x="880.29" y="203.73" width="20.01" height="10.47" fill="#00bfff"/>
<rect x="899.30" y="203.73" width="10.50" height="10.47" fill="#ff0000"/>
<rect x="518.10" y="213.20" width="87.54" height="10.47" fill="#00008f"/>
<rect x="604.64" y="213.20" width="20.01" height="10.47" fill="#ffbf00"/>
<rect x="623.65" y="213.20" width="29.52" height="10.47" fill="#ff8000"/>
<rect x="652.17" y="213.20" width="10.50" height="10.47" fill="#ffbf00"/>
<rect x="661.68" y="213.20" width="10.50" height="10.47" fill="#bfff40"/>
<rect x="671.18" y="213.20" width="10.50" height="10.47" fill="#ffbf00"/>
<rect x="680.69" y="213.20" width="10.50" height="10.47" fill="#ff4000"/>
<rect x="690.19" y="213.20" width="10.50" height="10.47" fill="#ff0000"/>
<rect x="699.70" y="213.20" width="10.50" height="10.47" fill="#ff8000"/>
<rect x="709.20" y="213.20" width="10.50" height="10.47" fill="#ffff00"/>
<rect x="718.71" y="213.20" width="134.07" height="10.47" fill="#00008f"/>
<rect x="851.78" y="213.20" width="10.50" height="10.47" fill="#ff4000"/>
<rect x="861.28" y="213.20" width="20.01" height="10.47" fill="#00008f"/>
<rect x="880.29" y="213.20" width="10.50" height="10.47" fill="#0040ff"/>
<rect x="889.80" y="213.20" width="10.50" height="10.47" fill="#40ffbf"/>
<rect x="899.30" y="213.20" width="10.50" height="10.47" fill="#ff8000"/>
<rect x="518.10" y="222.67" width="78.04" height="10.47" fill="#00008f"/>
<rect x="595.14" y="222.67" width="10.50" height="10.47" fill="#0000af"/>
<rect x="604.64" y="222.67" width="10.51" height="10.47" fill="#ffff00"/>
<rect x="614.15" y="222.67" width="10.50" height="10.47" fill="#ff8000"/>
<rect x="623.65" y="222.67" width="20.01" height="10.47" fill="#ff4000"/>
<rect x="642.67" y="222.67" width="10.50" height="10.47" fill="#ff8000"/>
<rect x="652.17" y="222.67" width="20.01" height="10.47" fill="#ffbf00"/>
<rect x="671.18" y="222.67" width="10.50" height="10.47" fill="#bfff40"/>
<rect x="680.69" y="222.67" width="10.50" height="10.47" fill="#40ffbf"/>
<rect x="690.19" y="222.67" width="10.50" height="10.47" fill="#00ffff"/>
<rect x="699.70" y="222.67" width="10.50" height="10.47" fill="#ffbf00"/>
<rect x="709.20" y="222.67" width="124.57" height="10.47" fill="#00008f"/>
<rect x="832.77" y="222.67" width="20.01" height="10.47" fill="#ff0000"/>
<rect x="851.78" y="222.67" width="10.50" height="10.47" fill="#00008f"/>
<rect x="861.28" y="222.67" width="20.01" height="10.47" fill="#bf0000"/>
<rect x="880.29" y="222.67" width="10.50" height="10.47" fill="#00008f"/>
<rect x="889.80" y="222.67" width="10.50" height="10.47" fill="#40ffbf"/>
<rect x="899.30" y="222.67" width="10.50" height="10.47" fill="#bf0000"/>
<rect x="518.10" y="232.14" width="78.04" height="10.47" fill="#00008f"/>
<rect x="595.14" y="232.14" width="10.50" height="10.47" fill="#bfff40"/>
<rect x="604.64" y="232.14" width="10.51" height="10.47" fill="#80ff80"/>
<rect x="614.15" y="232.14" width="10.50" height="10.47" fill="#ffff00"/>
<rect x="623.65" y="232.14" width="39.02" height="10.47" fill="#ff4000"/>
<rect x="661.68" y="232.14" width="10.50" height="10.47" fill="#ffbf00"/>
<rect x="671.18" y="232.14" width="10.50" height="10.47" fill="#bfff40"/>
<rect x="680.69" y="232.14" width="20.01" height="10.47" fill="#00bfff"/>
<rect x="699.70" y="232.14" width="10.50" height="10.47" fill="#0040ff"/>
<rect x="709.20" y="232.14" width="115.06" height="10.47" fill="#00008f"/>
<rect x="823.26" y="232.14" width="10.51" height="10.47" fill="#ff4000"/>
<rect x="832.77" y="232.14" width="20.01" height="10.47" fill="#bf0000"/>
<rect x="851.78" y="232.14" width="10.50" height="10.47" fill="#ff0000"/>
<rect x="861.28" y="232.14" width="39.02" height="10.47" fill="#bf0000"/>
<rect x="899.30" y="232.14" width="10.50" height="10.47" fill="#00008f"/>
<rect x="518.10" y="241.61" width="11.50" height="10.47" fill="#00008f"/>
<rect x="528.61" y="241.61" width="20.01" height="10.47" fill="#0000ff"/>
<rect x="547.62" y="241.61" width="48.52" height="10.47" fill="#00008f"/>
<rect x="595.14" y="241.61" width="20.01" height="10.47" fill="#bfff40"/>
<rect x="614.15" y="241.61" width="39.02" height="10.47" fill="#ff4000"/>
<rect x="652.17" y="241.61" width="10.50" height="10.47" fill="#ff8000"/>
<rect x="661.68" y="241.61" width="20.01" height="10.47" fill="#ffbf00"/>
<rect x="680.69" y="241.61" width="10.50" height="10.47" fill="#80ff80"/>
<rect x="690.19" y="241.61" width="48.52" height="10.47" fill="#00008f"/>
<rect x="737.72" y="241.61" width="10.50" height="10.47" fill="#ffbf00"/>
<rect x="747.22" y="241.61" width="10.50" height="10.47" fill="#ff4000"/>
<rect x="756.73" y="241.61" width="29.51" height="10.47" fill="#0000ff"/>
<rect x="785.24" y="241.61" width="39.02" height="10.47" fill="#00008f"/>
<rect x="823.26" y="241.61" width="20.01" height="10.47" fill="#ff0000"/>
<rect x="842.27" y="241.61" width="20.01" height="10.47" fill="#bf0000"/>
<rect x="861.28" y="241.61" width="10.51" height="10.47" fill="#9f0000"/>
<rect x="870.79" y="241.61" width="29.51" height="10.47" fill="#bf0000"/>
<rect x="899.30" y="241.61" width="10.50" height="10.47" fill="#00008f"/>
<rect x="518.10" y="251.08" width="11.50" height="10.47" fill="#00008f"/>
<rect x="528.61" y="251.08" width="10.50" height="10.47" fill="#0040ff"/>
<rect x="538.11" y="251.08" width="10.50" height="10.47" fill="#0080ff"/>
<rect x="547.62" y="251.08" width="10.50" height="10.47" fill="#0040ff"/>
<rect x="557.12" y="251.08" width="10.50" height="10.47" fill="#0000af"/>
<rect x="566.62" y="251.08" width="20.01" height="10.47" fill="#00008f"/>
<rect x="585.63" y="251.08" width="10.50" height="10.47" fill="#0000af"/>
<rect x="595.14" y="251.08" width="10.50" height="10.47" fill="#00ffff"/>
<rect x="604.64" y="251.08" width="10.51" height="10.47" fill="#ffbf00"/>
<rect x="614.15" y="251.08" width="10.50" height="10.47" fill="#ff8000"/>
<rect x="623.65" y="251.08" width="10.51" height="10.47" fill="#ff4000"/>
<rect x="633.16" y="251.08" width="10.50" height="10.47" fill="#ff8000"/>
<rect x="642.67" y="251.08" width="10.50" height="10.47" fill="#ff4000"/>
<rect x="652.17" y="251.08" width="20.01" height="10.47" fill="#ffbf00"/>
<rect x="671.18" y="251.08" width="10.50" height="10.47" fill="#80ff80"/>
<rect x="680.69" y="251.08" width="29.51" height="10.47" fill="#00008f"/>
<rect x="709.20" y="251.08" width="10.50" height="10.47" fill="#ff0000"/>
<rect x="718.71" y="251.08" width="10.50" height="10.47" fill="#ff8000"/>
<rect x="728.21" y="251.08" width="20.01" height="10.47" fill="#ff0000"/>
<rect x="747.22" y="251.08" width="10.50" height="10.47" fill="#ff4000"/>
<rect x="756.73" y="251.08" width="10.50" height="10.47" fill="#0000ff"/>
<rect x="766.23" y="251.08" width="10.51" height="10.47" fill="#ffbf00"/>
<rect x="775.74" y="251.08" width="10.50" height="10.47" fill="#0000ff"/>
<rect x="785.24" y="251.08" width="29.52" height="10.47" fill="#00008f"/>
<rect x="813.76" y="251.08" width="10.50" height="10.47" fill="#00ffff"/>
<rect x="823.26" y="251.08" width="10.51" height="10.47" fill="#ff0000"/>
<rect x="832.77" y="251.08" width="20.01" height="10.47" fill="#bf0000"/>
<rect x="851.78" y="251.08" width="20.01" height="10.47" fill="#9f0000"/>
<rect x="870.79" y="251.08" width="20.01" height="10.47" fill="#bf0000"/>
<rect x="889.80" y="251.08" width="10.50" height="10.47" fill="#ff0000"/>
<rect x="899.30" y="251.08" width="10.50" height="10.47" fill="#00008f"/>
<rect x="518.10" y="260.55" width="11.50" height="10.47" fill="#00008f"/>
<rect x="528.61" y="260.55" width="10.50" height="10.47" fill="#0080ff"/>
<rect x="538.11" y="260.55" width="20.01" height="10.47" fill="#00bfff"/>
<rect x="557.12" y="260.55" width="10.50" height="10.47" fill="#0000ff"/>
<rect x="566.62" y="260.55" width="20.01" height="10.47" fill="#00008f"/>
<rect x="585.63" y="260.55" width="10.50" height="10.47" fill="#0000af"/>
<rect x="595.14" y="260.55" width="10.50" height="10.47" fill="#00bfff"/>
<rect x="604.64" y="260.55" width="10.51" height="10.47" fill="#bfff40"/>
<rect x="614.15" y="260.55" width="10.50" height="10.47" fill="#80ff80"/>
<rect x="623.65" y="260.55" width="10.51" height="10.47" fill="#ff4000"/>
<rect x="633.16" y="260.55" width="20.01" height="10.47" fill="#ff8000"/>
<rect x="652.17" y="260.55" width="20.01" height="10.47" fill="#bfff40"/>
<rect x="671.18" y="260.55" width="10.50" height="10.47" fill="#80ff80"/>
<rect x="680.69" y="260.55" width="29.51" height="10.47" fill="#00008f"/>
<rect x="709.20" y="260.55" width="10.50" height="10.47" fill="#ff0000"/>
<rect x="718.71" y="260.55" width="29.51" height="10.47" fill="#cf0000"/>
<rect x="747.22" y="260.55" width="10.50" height="10.47" fill="#ff4000"/>
<rect x="756.73" y="260.55" width="10.50" height="10.47" fill="#ff0000"/>
<rect x="766.23" y="260.55" width="10.51" height="10.47" fill="#ffbf00"/>
<rect x="775.74" y="260.55" width="39.02" height="10.47" fill="#00008f"/>
<rect x="813.76" y="260.55" width="10.50" height="10.47" fill="#ff8000"/>
<rect x="823.26" y="260.55" width="10.51" height="10.47" fill="#ff4000"/>
<rect x="832.77" y="260.55" width="10.50" height="10.47" fill="#ff0000"/>
<rect x="842.27" y="260.55" width="48.53" height="10.47" fill="#bf0000"/>
<rect x="889.80" y="260.55" width="10.50" height="10.47" fill="#ff0000"/>
<rect x="899.30" y="260.55" width="10.50" height="10.47" fill="#00008f"/>
<rect x="518.10" y="270.02" width="11.50" height="10.47" fill="#00008f"/>
<rect x="528.61" y="270.02" width="10.50" height="10.47" fill="#0080ff"/>
<rect x="538.11" y="270.02" width="20.01" height="10.47" fill="#00bfff"/>
<rect x="557.12" y="270.02" width="10.50" height="10.47" fill="#0040ff"/>
<rect x="566.62" y="270.02" width="10.50" height="10.47" fill="#0000ff"/>
<rect x="576.13" y="270.02" width="29.51" height="10.47" fill="#00008f"/>
<rect x="604.64" y="270.02" width="10.51" height="10.47" fill="#0080ff"/>
<rect x="614.15" y="270.02" width="10.50" height="10.47" fill="#80ff80"/>
<rect x="623.65" y="270.02" width="10.51" height="10.47" fill="#bfff40"/>
<rect x="633.16" y="270.02" width="10.50" height="10.47" fill="#ffbf00"/>
<rect x="642.67" y="270.02" width="10.50" height="10.47" fill="#ffff00"/>
<rect x="652.17" y="270.02" width="20.01" height="10.47" fill="#40ffbf"/>
<rect x="671.18" y="270.02" width="29.51" height="10.47" fill="#00008f"/>
<rect x="699.70" y="270.02" width="10.50" height="10.47" fill="#ff4000"/>
<rect x="709.20" y="270.02" width="10.50" height="10.47" fill="#ff0000"/>
<rect x="718.71" y="270.02" width="20.01" height="10.47" fill="#bf0000"/>
<rect x="737.72" y="270.02" width="10.50" height="10.47" fill="#cf0000"/>
<rect x="747.22" y="270.02" width="20.01" height="10.47" fill="#ff0000"/>
<rect x="766.23" y="270.02" width="20.01" height="10.47" fill="#ff4000"/>
<rect x="785.24" y="270.02" width="10.51" height="10.47" fill="#ffbf00"/>
<rect x="794.75" y="270.02" width="20.01" height="10.47" fill="#00008f"/>
<rect x="813.76" y="270.02" width="29.51" height="10.47" fill="#ff8000"/>
<rect x="842.27" y="270.02" width="10.51" height="10.47" fill="#ff0000"/>
<rect x="851.78" y="270.02" width="29.51" height="10.47" fill="#bf0000"/>
<rect x="880.29" y="270.02" width="20.01" height="10.47" fill="#ff0000"/>
<rect x="899.30" y="270.02" width="10.50" height="10.47" fill="#00008f"/>
<rect x="518.10" y="279.49" width="21.01" height="10.47" fill="#00008f"/>
<rect x="538.11" y="279.49" width="10.50" height="10.47" fill="#00bfff"/>
<rect x="547.62" y="279.49" width="20.01" height="10.47" fill="#0080ff"/>
<rect x="566.62" y="279.49" width="10.50" height="10.47" fill="#0000ff"/>
<rect x="576.13" y="279.49" width="10.50" height="10.47" fill="#00008f"/>
<rect x="585.63" y="279.49" width="20.01" height="10.47" fill="#ff8000"/>
<rect x="604.64" y="279.49" width="10.51" height="10.47" fill="#00bfff"/>
<rect x="614.15" y="279.49" width="10.50" height="10.47" fill="#0080ff"/>
<rect x="623.65" y="279.49" width="10.51" height="10.47" fill="#0000ff"/>
<rect x="633.16" y="279.49" width="10.50" height="10.47" fill="#00008f"/>
<rect x="642.67" y="279.49" width="10.50" height="10.47" fill="#bfff40"/>
<rect x="652.17" y="279.49" width="10.50" height="10.47" fill="#40ffbf"/>
<rect x="661.68" y="279.49" width="20.01" height="10.47" fill="#00008f"/>
<rect x="680.69" y="279.49" width="10.50" height="10.47" fill="#ffbf00"/>
<rect x="690.19" y="279.49" width="10.50" height="10.47" fill="#ff4000"/>
<rect x="699.70" y="279.49" width="20.01" height="10.47" fill="#ff0000"/>
<rect x="718.71" y="279.49" width="39.02" height="10.47" fill="#cf0000"/>
<rect x="756.73" y="279.49" width="10.50" height="10.47" fill="#ff0000"/>
<rect x="766.23" y="279.49" width="20.01" height="10.47" fill="#ff4000"/>
<rect x="785.24" y="279.49" width="20.01" height="10.47" fill="#ffbf00"/>
<rect x="804.25" y="279.49" width="10.51" height="10.47" fill="#0080ff"/>
<rect x="813.76" y="279.49" width="29.51" height="10.47" fill="#ff8000"/>
<rect x="842.27" y="279.49" width="10.51" height="10.47" fill="#ff0000"/>
<rect x="851.78" y="279.49" width="29.51" height="10.47" fill="#bf0000"/>
<rect x="880.29" y="279.49" width="10.50" height="10.47" fill="#ff0000"/>
<rect x="889.80" y="279.49" width="20.01" height="10.47" fill="#00008f"/>
<rect x="518.10" y="288.96" width="21.01" height="10.47" fill="#00008f"/>
<rect x="538.11" y="288.96" width="10.50" height="10.47" fill="#00ffff"/>
<rect x="547.62" y="288.96" width="10.50" height="10.47" fill="#00bfff"/>
<rect x="557.12" y="288.96" width="20.01" height="10.47" fill="#0000ff"/>
<rect x="576.13" y="288.96" width="39.02" height="10.47" fill="#ff0000"/>
<rect x="614.15" y="288.96" width="10.50" height="10.47" fill="#00bfff"/>
<rect x="623.65" y="288.96" width="10.51" height="10.47" fill="#0000ff"/>
<rect x="633.16" y="288.96" width="48.52" height="10.47" fill="#00008f"/>
<rect x="680.69" y="288.96" width="29.51" height="10.47" fill="#ff0000"/>
<rect x="709.20" y="288.96" width="29.51" height="10.47" fill="#cf0000"/>
<rect x="737.72" y="288.96" width="10.50" height="10.47" fill="#bf0000"/>
<rect x="747.22" y="288.96" width="10.50" height="10.47" fill="#cf0000"/>
<rect x="756.73" y="288.96" width="20.01" height="10.47" fill="#ff0000"/>
<rect x="775.74" y="288.96" width="10.50" height="10.47" fill="#ff4000"/>
<rect x="785.24" y="288.96" width="10.51" height="10.47" fill="#80ff80"/>
<rect x="794.75" y="288.96" width="10.50" height="10.47" fill="#40ffbf"/>
<rect x="804.25" y="288.96" width="10.51" height="10.47" fill="#0000ff"/>
<rect x="813.76" y="288.96" width="10.50" height="10.47" fill="#00ffff"/>
<rect x="823.26" y="288.96" width="10.51" height="10.47" fill="#00008f"/>
<rect x="832.77" y="288.96" width="20.01" height="10.47" fill="#ffbf00"/>
<rect x="851.78" y="288.96" width="29.51" height="10.47" fill="#cf0000"/>
<rect x="880.29" y="288.96" width="10.50" height="10.47" fill="#bfff40"/>
<rect x="889.80" y="288.96" width="20.01" height="10.47" fill="#00008f"/>
<rect x="518.10" y="298.43" width="30.51" height="10.47" fill="#00008f"/>
<rect x="547.62" y="298.43" width="10.50" height="10.47" fill="#00bfff"/>
<rect x="557.12" y="298.43" width="10.50" height="10.47" fill="#80ff80"/>
<rect x="566.62" y="298.43" width="10.50" height="10.47" fill="#0000ff"/>
<rect x="576.13" y="298.43" width="10.50" height="10.47" fill="#ff4000"/>
<rect x="585.63" y="298.43" width="29.52" height="10.47" fill="#cf0000"/>
<rect x="614.15" y="298.43" width="10.50" height="10.47" fill="#ff0000"/>
<rect x="623.65" y="298.43" width="10.51" height="10.47" fill="#ff4000"/>
<rect x="633.16" y="298.43" width="20.01" height="10.47" fill="#ffff00"/>
<rect x="652.17" y="298.43" width="20.01" height="10.47" fill="#00008f"/>
<rect x="671.18" y="298.43" width="10.50" height="10.47" fill="#ffbf00"/>
<rect x="680.69" y="298.43" width="10.50" height="10.47" fill="#ff8000"/>
<rect x="690.19" y="298.43" width="10.50" height="10.47" fill="#ff4000"/>
<rect x="699.70" y="298.43" width="10.50" height="10.47" fill="#ff0000"/>
<rect x="709.20" y="298.43" width="48.52" height="10.47" fill="#cf0000"/>
<rect x="756.73" y="298.43" width="10.50" height="10.47" fill="#ff0000"/>
<rect x="766.23" y="298.43" width="10.51" height="10.47" fill="#80ff80"/>
<rect x="775.74" y="298.43" width="10.50" height="10.47" fill="#00ffff"/>
<rect x="785.24" y="298.43" width="20.01" height="10.47" fill="#80ff80"/>
<rect x="804.25" y="298.43" width="10.51" height="10.47" fill="#00ffff"/>
<rect x="813.76" y="298.43" width="20.01" height="10.47" fill="#00008f"/>
<rect x="832.77" y="298.43" width="10.50" height="10.47" fill="#40ffbf"/>
<rect x="842.27" y="298.43" width="10.51" height="10.47" fill="#ff8000"/>
<rect x="851.78" y="298.43" width="10.50" height="10.47" fill="#ffbf00"/>
<rect x="861.28" y="298.43" width="10.51" height="10.47" fill="#ff0000"/>
<rect x="870.79" y="298.43" width="10.50" height="10.47" fill="#80ff80"/>
<rect x="880.29" y="298.43" width="10.50" height="10.47" fill="#bfff40"/>
<rect x="889.80" y="298.43" width="20.01" height="10.47" fill="#00008f"/>
<rect x="518.10" y="307.90" width="30.51" height="10.47" fill="#00008f"/>
<rect x="547.62" y="307.90" width="10.50" height="10.47" fill="#0080ff"/>
<rect x="557.12" y="307.90" width="10.50" height="10.47" fill="#80ff80"/>
<rect x="566.62" y="307.90" width="20.01" height="10.47" fill="#ff0000"/>
<rect x="585.63" y="307.90" width="10.50" height="10.47" fill="#cf0000"/>
<rect x="595.14" y="307.90" width="10.50" height="10.47" fill="#bf0000"/>
<rect x="604.64" y="307.90" width="10.51" height="10.47" fill="#cf0000"/>
<rect x="614.15" y="307.90" width="10.50" height="10.47" fill="#ff0000"/>
<rect x="623.65" y="307.90" width="10.51" height="10.47" fill="#ff4000"/>
<rect x="633.16" y="307.90" width="10.50" height="10.47" fill="#ffff00"/>
<rect x="642.67" y="307.90" width="29.51" height="10.47" fill="#00008f"/>
<rect x="671.18" y="307.90" width="10.50" height="10.47" fill="#ff4000"/>
<rect x="680.69" y="307.90" width="29.51" height="10.47" fill="#ff0000"/>
<rect x="709.20" y="307.90" width="48.52" height="10.47" fill="#cf0000"/>
<rect x="756.73" y="307.90" width="10.50" height="10.47" fill="#ff0000"/>
<rect x="766.23" y="307.90" width="29.52" height="10.47" fill="#bfff40"/>
<rect x="794.75" y="307.90" width="10.50" height="10.47" fill="#80ff80"/>
<rect x="804.25" y="307.90" width="10.51" height="10.47" fill="#00ffff"/>
<rect x="813.76" y="307.90" width="20.01" height="10.47" fill="#00008f"/>
<rect x="832.77" y="307.90" width="10.50" height="10.47" fill="#0040ff"/>
<rect x="842.27" y="307.90" width="10.51" height="10.47" fill="#bfff40"/>
<rect x="851.78" y="307.90" width="10.50" height="10.47" fill="#0080ff"/>
<rect x="861.28" y="307.90" width="20.01" height="10.47" fill="#80ff80"/>
<rect x="880.29" y="307.90" width="29.51" height="10.47" fill="#00008f"/>
<rect x="518.10" y="317.37" width="40.02" height="10.47" fill="#00008f"/>
<rect x="557.12" y="317.37" width="10.50" height="10.47" fill="#bfff40"/>
<rect x="566.62" y="317.37" width="10.50" height="10.47" fill="#ff0000"/>
<rect x="576.13" y="317.37" width="20.01" height="10.47" fill="#cf0000"/>
<rect x="595.14" y="317.37" width="10.50" height="10.47" fill="#bf0000"/>
<rect x="604.64" y="317.37" width="29.52" height="10.47" fill="#cf0000"/>
<rect x="633.16" y="317.37" width="10.50" height="10.47" fill="#ff4000"/>
<rect x="642.67" y="317.37" width="10.50" height="10.47" fill="#ff8000"/>
<rect x="652.17" y="317.37" width="48.52" height="10.47" fill="#ff0000"/>
<rect x="699.70" y="317.37" width="10.50" height="10.47" fill="#ff4000"/>
<rect x="709.20" y="317.37" width="10.50" height="10.47" fill="#ff8000"/>
<rect x="718.71" y="317.37" width="10.50" height="10.47" fill="#ffbf00"/>
<rect x="728.21" y="317.37" width="20.01" height="10.47" fill="#ff4000"/>
<rect x="747.22" y="317.37" width="10.50" height="10.47" fill="#ff0000"/>
<rect x="756.73" y="317.37" width="10.50" height="10.47" fill="#ffbf00"/>
<rect x="766.23" y="317.37" width="10.51" height="10.47" fill="#ffff00"/>
<rect x="775.74" y="317.37" width="20.01" height="10.47" fill="#bfff40"/>
<rect x="794.75" y="317.37" width="10.50" height="10.47" fill="#00ffff"/>
<rect x="804.25" y="317.37" width="10.51" height="10.47" fill="#00bfff"/>
<rect x="813.76" y="317.37" width="20.01" height="10.47" fill="#00ffff"/>
<rect x="832.77" y="317.37" width="10.50" height="10.47" fill="#00bfff"/>
<rect x="842.27" y="317.37" width="10.51" height="10.47" fill="#40ffbf"/>
<rect x="851.78" y="317.37" width="10.50" height="10.47" fill="#00008f"/>
<rect x="861.28" y="317.37" width="10.51" height="10.47" fill="#00ffff"/>
<rect x="870.79" y="317.37" width="39.02" height="10.47" fill="#00008f"/>
<rect x="518.10" y="326.84" width="49.52" height="10.47" fill="#00008f"/>
<rect x="566.62" y="326.84" width="10.50" height="10.47" fill="#ff0000"/>
<rect x="576.13" y="326.84" width="10.50" height="10.47" fill="#cf0000"/>
<rect x="585.63" y="326.84" width="20.01" height="10.47" fill="#bf0000"/>
<rect x="604.64" y="326.84" width="20.01" height="10.47" fill="#cf0000"/>
<rect x="623.65" y="326.84" width="20.01" height="10.47" fill="#ff0000"/>
<rect x="642.67" y="326.84" width="10.50" height="10.47" fill="#ff8000"/>
<rect x="652.17" y="326.84" width="10.50" height="10.47" fill="#ff4000"/>
<rect x="661.68" y="326.84" width="10.50" height="10.47" fill="#ff0000"/>
<rect x="671.18" y="326.84" width="20.01" height="10.47" fill="#cf0000"/>
<rect x="690.19" y="326.84" width="10.50" height="10.47" fill="#ff0000"/>
<rect x="699.70" y="326.84" width="10.50" height="10.47" fill="#ff4000"/>
<rect x="709.20" y="326.84" width="48.52" height="10.47" fill="#ffbf00"/>
<rect x="756.73" y="326.84" width="10.50" height="10.47" fill="#80ff80"/>
<rect x="766.23" y="326.84" width="20.01" height="10.47" fill="#ffff00"/>
<rect x="785.24" y="326.84" width="10.51" height="10.47" fill="#bfff40"/>
<rect x="794.75" y="326.84" width="39.02" height="10.47" fill="#80ff80"/>
<rect x="832.77" y="326.84" width="10.50" height="10.47" fill="#40ffbf"/>
<rect x="842.27" y="326.84" width="10.51" height="10.47" fill="#00ffff"/>
<rect x="851.78" y="326.84" width="10.50" height="10.47" fill="#0080ff"/>
<rect x="861.28" y="326.84" width="48.53" height="10.47" fill="#00008f"/>
<rect x="518.10" y="336.31" width="49.52" height="10.47" fill="#00008f"/>
<rect x="566.62" y="336.31" width="10.50" height="10.47" fill="#ff0000"/>
<rect x="576.13" y="336.31" width="10.50" height="10.47" fill="#cf0000"/>
<rect x="585.63" y="336.31" width="20.01" height="10.47" fill="#bf0000"/>
<rect x="604.64" y="336.31" width="10.51" height="10.47" fill="#cf0000"/>
<rect x="614.15" y="336.31" width="10.50" height="10.47" fill="#bf0000"/>
<rect x="623.65" y="336.31" width="20.01" height="10.47" fill="#ff0000"/>
<rect x="642.67" y="336.31" width="10.50" height="10.47" fill="#ff8000"/>
<rect x="652.17" y="336.31" width="10.50" height="10.47" fill="#ff4000"/>
<rect x="661.68" y="336.31" width="10.50" height="10.47" fill="#cf0000"/>
<rect x="671.18" y="336.31" width="10.50" height="10.47" fill="#bf0000"/>
<rect x="680.69" y="336.31" width="20.01" height="10.47" fill="#cf0000"/>
<rect x="699.70" y="336.31" width="10.50" height="10.47" fill="#ff0000"/>
<rect x="709.20" y="336.31" width="10.50" height="10.47" fill="#ff4000"/>
<rect x="718.71" y="336.31" width="10.50" height="10.47" fill="#ffbf00"/>
<rect x="728.21" y="336.31" width="10.50" height="10.47" fill="#80ff80"/>
<rect x="737.72" y="336.31" width="10.50" height="10.47" fill="#00bfff"/>
<rect x="747.22" y="336.31" width="10.50" height="10.47" fill="#ff8000"/>
<rect x="756.73" y="336.31" width="10.50" height="10.47" fill="#00ffff"/>
<rect x="766.23" y="336.31" width="20.01" height="10.47" fill="#bfff40"/>
<rect x="785.24" y="336.31" width="10.51" height="10.47" fill="#80ff80"/>
<rect x="794.75" y="336.31" width="20.01" height="10.47" fill="#40ffbf"/>
<rect x="813.76" y="336.31" width="10.50" height="10.47" fill="#80ff80"/>
<rect x="823.26" y="336.31" width="10.51" height="10.47" fill="#bfff40"/>
<rect x="832.77" y="336.31" width="10.50" height="10.47" fill="#80ff80"/>
<rect x="842.27" y="336.31" width="10.51" height="10.47" fill="#00ffff"/>
<rect x="851.78" y="336.31" width="58.03" height="10.47" fill="#00008f"/>
<rect x="518.10" y="345.78" width="59.03" height="10.47" fill="#00008f"/>
<rect x="576.13" y="345.78" width="10.50" height="10.47" fill="#ff0000"/>
<rect x="585.63" y="345.78" width="10.50" height="10.47" fill="#cf0000"/>
<rect x="595.14" y="345.78" width="10.50" height="10.47" fill="#bf0000"/>
<rect x="604.64" y="345.78" width="10.51" height="10.47" fill="#cf0000"/>
<rect x="614.15" y="345.78" width="10.50" height="10.47" fill="#ff0000"/>
<rect x="623.65" y="345.78" width="10.51" height="10.47" fill="#ffbf00"/>
<rect x="633.16" y="345.78" width="10.50" height="10.47" fill="#ff4000"/>
<rect x="642.67" y="345.78" width="10.50" height="10.47" fill="#ff0000"/>
<rect x="652.17" y="345.78" width="10.50" height="10.47" fill="#ff4000"/>
<rect x="661.68" y="345.78" width="10.50" height="10.47" fill="#ff0000"/>
<rect x="671.18" y="345.78" width="20.01" height="10.47" fill="#cf0000"/>
<rect x="690.19" y="345.78" width="29.51" height="10.47" fill="#ff0000"/>
<rect x="718.71" y="345.78" width="20.01" height="10.47" fill="#00008f"/>
<rect x="737.72" y="345.78" width="20.01" height="10.47" fill="#00bfff"/>
<rect x="756.73" y="345.78" width="10.50" height="10.47" fill="#00ffff"/>
<rect x="766.23" y="345.78" width="20.01" height="10.47" fill="#40ffbf"/>
<rect x="785.24" y="345.78" width="10.51" height="10.47" fill="#80ff80"/>
<rect x="794.75" y="345.78" width="10.50" height="10.47" fill="#00bfff"/>
<rect x="804.25" y="345.78" width="10.51" height="10.47" fill="#00ffff"/>
<rect x="813.76" y="345.78" width="20.01" height="10.47" fill="#80ff80"/>
<rect x="832.77" y="345.78" width="10.50" height="10.47" fill="#00bfff"/>
<rect x="842.27" y="345.78" width="10.51" height="10.47" fill="#00ffff"/>
<rect x="851.78" y="345.78" width="58.03" height="10.47" fill="#00008f"/>
<rect x="518.10" y="355.25" width="78.04" height="10.47" fill="#00008f"/>
<rect x="595.14" y="355.25" width="10.50" height="10.47" fill="#bf0000"/>
<rect x="604.64" y="355.25" width="20.01" height="10.47" fill="#ff0000"/>
<rect x="623.65" y="355.25" width="20.01" height="10.47" fill="#ff8000"/>
<rect x="642.67" y="355.25" width="29.51" height="10.47" fill="#ff0000"/>
<rect x="671.18" y="355.25" width="29.51" height="10.47" fill="#cf0000"/>
<rect x="699.70" y="355.25" width="10.50" height="10.47" fill="#ff0000"/>
<rect x="709.20" y="355.25" width="10.50" height="10.47" fill="#ffbf00"/>
<rect x="718.71" y="355.25" width="10.50" height="10.47" fill="#00008f"/>
<rect x="728.21" y="355.25" width="20.01" height="10.47" fill="#bfff40"/>
<rect x="747.22" y="355.25" width="10.50" height="10.47" fill="#0080ff"/>
<rect x="756.73" y="355.25" width="29.51" height="10.47" fill="#00ffff"/>
<rect x="785.24" y="355.25" width="29.52" height="10.47" fill="#00bfff"/>
<rect x="813.76" y="355.25" width="20.01" height="10.47" fill="#40ffbf"/>
<rect x="832.77" y="355.25" width="10.50" height="10.47" fill="#00bfff"/>
<rect x="842.27" y="355.25" width="67.54" height="10.47" fill="#00008f"/>
<rect x="518.10" y="364.72" width="87.54" height="10.47" fill="#00008f"/>
<rect x="604.64" y="364.72" width="20.01" height="10.47" fill="#ff4000"/>
<rect x="623.65" y="364.72" width="10.51" height="10.47" fill="#ff0000"/>
<rect x="633.16" y="364.72" width="10.50" height="10.47" fill="#ff4000"/>
<rect x="642.67" y="364.72" width="10.50" height="10.47" fill="#ffbf00"/>
<rect x="652.17" y="364.72" width="10.50" height="10.47" fill="#ff4000"/>
<rect x="661.68" y="364.72" width="39.02" height="10.47" fill="#ff0000"/>
<rect x="699.70" y="364.72" width="20.01" height="10.47" fill="#ffbf00"/>
<rect x="718.71" y="364.72" width="10.50" height="10.47" fill="#00008f"/>
<rect x="728.21" y="364.72" width="20.01" height="10.47" fill="#bfff40"/>
<rect x="747.22" y="364.72" width="29.52" height="10.47" fill="#00008f"/>
<rect x="775.74" y="364.72" width="20.01" height="10.47" fill="#0040ff"/>
<rect x="794.75" y="364.72" width="29.51" height="10.47" fill="#0080ff"/>
<rect x="823.26" y="364.72" width="86.55" height="10.47" fill="#00008f"/>
<rect x="518.10" y="374.19" width="106.55" height="10.47" fill="#00008f"/>
<rect x="623.65" y="374.19" width="20.01" height="10.47" fill="#ff0000"/>
<rect x="642.67" y="374.19" width="20.01" height="10.47" fill="#ffbf00"/>
<rect x="661.68" y="374.19" width="20.01" height="10.47" fill="#ff0000"/>
<rect x="680.69" y="374.19" width="10.50" height="10.47" fill="#ff4000"/>
<rect x="690.19" y="374.19" width="29.51" height="10.47" fill="#ff8000"/>
<rect x="718.71" y="374.19" width="10.50" height="10.47" fill="#ffbf00"/>
<rect x="728.21" y="374.19" width="20.01" height="10.47" fill="#bfff40"/>
<rect x="747.22" y="374.19" width="29.52" height="10.47" fill="#00008f"/>
<rect x="775.74" y="374.19" width="10.50" height="10.47" fill="#0000ff"/>
<rect x="785.24" y="374.19" width="10.51" height="10.47" fill="#0040ff"/>
<rect x="794.75" y="374.19" width="10.50" height="10.47" fill="#00ffff"/>
<rect x="804.25" y="374.19" width="10.51" height="10.47" fill="#00bfff"/>
<rect x="813.76" y="374.19" width="96.05" height="10.47" fill="#00008f"/>
<rect x="518.10" y="383.66" width="106.55" height="10.47" fill="#00008f"/>
<rect x="623.65" y="383.66" width="20.01" height="10.47" fill="#ff0000"/>
<rect x="642.67" y="383.66" width="10.50" height="10.47" fill="#bf0000"/>
<rect x="652.17" y="383.66" width="10.50" height="10.47" fill="#ff0000"/>
<rect x="661.68" y="383.66" width="10.50" height="10.47" fill="#ff8000"/>
<rect x="671.18" y="383.66" width="20.01" height="10.47" fill="#ffff00"/>
<rect x="690.19" y="383.66" width="10.50" height="10.47" fill="#bf0000"/>
<rect x="699.70" y="383.66" width="10.50" height="10.47" fill="#ff0000"/>
<rect x="709.20" y="383.66" width="29.51" height="10.47" fill="#ff8000"/>
<rect x="737.72" y="383.66" width="10.50" height="10.47" fill="#ffff00"/>
<rect x="747.22" y="383.66" width="10.50" height="10.47" fill="#0000af"/>
<rect x="756.73" y="383.66" width="20.01" height="10.47" fill="#00008f"/>
<rect x="775.74" y="383.66" width="10.50" height="10.47" fill="#00ffff"/>
<rect x="785.24" y="383.66" width="10.51" height="10.47" fill="#40ffbf"/>
<rect x="794.75" y="383.66" width="115.06" height="10.47" fill="#00008f"/>
<rect x="518.10" y="393.13" width="144.58" height="10.47" fill="#00008f"/>
<rect x="661.68" y="393.13" width="20.01" height="10.47" fill="#ff4000"/>
<rect x="680.69" y="393.13" width="10.50" height="10.47" fill="#ff0000"/>
<rect x="690.19" y="393.13" width="20.01" height="10.47" fill="#bf0000"/>
<rect x="709.20" y="393.13" width="10.50" height="10.47" fill="#ff0000"/>
<rect x="718.71" y="393.13" width="20.01" height="10.47" fill="#ff8000"/>
<rect x="737.72" y="393.13" width="10.50" height="10.47" fill="#ffff00"/>
<rect x="747.22" y="393.13" width="10.50" height="10.47" fill="#00bfff"/>
<rect x="756.73" y="393.13" width="153.08" height="10.47" fill="#00008f"/>
<rect x="518.10" y="402.60" width="391.71" height="10.47" fill="#00008f"/>
</g>
<rect x="418.00" y="24.500" width="32.00" height="7.156" fill="#800000"/>
<rect x="418.00" y="30.656" width="32.00" height="7.156" fill="#8f0000"/>
<rect x="418.00" y="36.812" width="32.00" height="7.156" fill="#9f0000"/>
<rect x="418.00" y="42.969" width="32.00" height="7.156" fill="#af0000"/>
<rect x="418.00" y="49.125" width="32.00" height="7.156" fill="#bf0000"/>
<rect x="418.00" y="55.281" width="32.00" height="7.156" fill="#cf0000"/>
<rect x="418.00" y="61.438" width="32.00" height="7.156" fill="#df0000"/>
<rect x="418.00" y="67.594" width="32.00" height="7.156" fill="#ef0000"/>
<rect x="418.00" y="73.750" width="32.00" height="7.156" fill="#ff0000"/>
<rect x="418.00" y="79.906" width="32.00" height="7.156" fill="#ff1000"/>
<rect x="418.00" y="86.062" width="32.00" height="7.156" fill="#ff2000"/>
<rect x="418.00" y="92.219" width="32.00" height="7.156" fill="#ff3000"/>
<rect x="418.00" y="98.375" width="32.00" height="7.156" fill="#ff4000"/>
<rect x="418.00" y="104.531" width="32.00" height="7.156" fill="#ff5000"/>
<rect x="418.00" y="110.688" width="32.00" height="7.156" fill="#ff6000"/>
<rect x="418.00" y="116.844" width="32.00" height="7.156" fill="#ff7000"/>
<rect x="418.00" y="123.000" width="32.00" height="7.156" fill="#ff8000"/>
<rect x="418.00" y="129.156" width="32.00" height="7.156" fill="#ff8f00"/>
<rect x="418.00" y="135.312" width="32.00" height="7.156" fill="#ff9f00"/>
<rect x="418.00" y="141.469" width="32.00" height="7.156" fill="#ffaf00"/>
<rect x="418.00" y="147.625" width="32.00" height="7.156" fill="#ffbf00"/>
<rect x="418.00" y="153.781" width="32.00" height="7.156" fill="#ffcf00"/>
<rect x="418.00" y="159.938" width="32.00" height="7.156" fill="#ffdf00"/>
<rect x="418.00" y="166.094" width="32.00" height="7.156" fill="#ffef00"/>
<rect x="418.00" y="172.250" width="32.00" height="7.156" fill="#ffff00"/>
<rect x="418.00" y="178.406" width="32.00" height="7.156" fill="#efff10"/>
<rect x="418.00" y="184.562" width="32.00" height="7.156" fill="#dfff20"/>
<rect x="418.00" y="190.719" width="32.00" height="7.156" fill="#cfff30"/>
<rect x="418.00" y="196.875" width="32.00" height="7.156" fill="#bfff40"/>
<rect x="418.00" y="203.031" width="32.00" height="7.156" fill="#afff50"/>
<rect x="418.00" y="209.188" width="32.00" height="7.156" fill="#9fff60"/>
<rect x="418.00" y="215.344" width="32.00" height="7.156" fill="#8fff70"/>
<rect x="418.00" y="221.500" width="32.00" height="7.156" fill="#80ff80"/>
<rect x="418.00" y="227.656" width="32.00" height="7.156" fill="#70ff8f"/>
<rect x="418.00" y="233.812" width="32.00" height="7.156" fill="#60ff9f"/>
<rect x="418.00" y="239.969" width="32.00" height="7.156" fill="#50ffaf"/>
<rect x="418.00" y="246.125" width="32.00" height="7.156" fill="#40ffbf"/>
<rect x="418.00" y="252.281" width="32.00" height="7.156" fill="#30ffcf"/>
<rect x="418.00" y="258.438" width="32.00" height="7.156" fill="#20ffdf"/>
<rect x="418.00" y="264.594" width="32.00" height="7.156" fill="#10ffef"/>
<rect x="418.00" y="270.750" width="32.00" height="7.156" fill="#00ffff"/>
<rect x="418.00" y="276.906" width="32.00" height="7.156" fill="#00efff"/>
<rect x="418.00" y="283.062" width="32.00" height="7.156" fill="#00dfff"/>
<rect x="418.00" y="289.219" width="32.00" height="7.156" fill="#00cfff"/>
<rect x="418.00" y="295.375" width="32.00" height="7.156" fill="#00bfff"/>
<rect x="418.00" y="301.531" width="32.00" height="7.156" fill="#00afff"/>
<rect x="418.00" y="307.688" width="32.00" height="7.156" fill="#009fff"/>
<rect x="418.00" y="313.844" width="32.00" height="7.156" fill="#008fff"/>
<rect x="418.00" y="320.000" width="32.00" height="7.156" fill="#0080ff"/>
<rect x="418.00" y="326.156" width="32.00" height="7.156" fill="#0070ff"/>
<rect x="418.00" y="332.312" width="32.00" height="7.156" fill="#0060ff"/>
<rect x="418.00" y="338.469" width="32.00" height="7.156" fill="#0050ff"/>
<rect x="418.00" y="344.625" width="32.00" height="7.156" fill="#0040ff"/>
<rect x="418.00" y="350.781" width="32.00" height="7.156" fill="#0030ff"/>
<rect x="418.00" y="356.938" width="32.00" height="7.156" fill="#0020ff"/>
<rect x="418.00" y="363.094" width="32.00" height="7.156" fill="#0010ff"/>
<rect x="418.00" y="369.250" width="32.00" height="7.156" fill="#0000ff"/>
<rect x="418.00" y="375.406" width="32.00" height="7.156" fill="#0000ef"/>
<rect x="418.00" y="381.562" width="32.00" height="7.156" fill="#0000df"/>
<rect x="418.00" y="387.719" width="32.00" height="7.156" fill="#0000cf"/>
<rect x="418.00" y="393.875" width="32.00" height="7.156" fill="#0000bf"/>
<rect x="418.00" y="400.031" width="32.00" height="7.156" fill="#0000af"/>
<rect x="418.00" y="406.188" width="32.00" height="7.156" fill="#00009f"/>
<rect x="418.00" y="412.344" width="32.00" height="6.156" fill="#00008f"/>
<rect x="931.80" y="23.800" width="31.20" height="7.086" fill="#800000"/>
<rect x="931.80" y="29.886" width="31.20" height="7.086" fill="#8f0000"/>
<rect x="931.80" y="35.972" width="31.20" height="7.086" fill="#9f0000"/>
<rect x="931.80" y="42.058" width="31.20" height="7.086" fill="#af0000"/>
<rect x="931.80" y="48.144" width="31.20" height="7.086" fill="#bf0000"/>
<rect x="931.80" y="54.230" width="31.20" height="7.086" fill="#cf0000"/>
<rect x="931.80" y="60.316" width="31.20" height="7.086" fill="#df0000"/>
<rect x="931.80" y="66.402" width="31.20" height="7.086" fill="#ef0000"/>
<rect x="931.80" y="72.488" width="31.20" height="7.086" fill="#ff0000"/>
<rect x="931.80" y="78.573" width="31.20" height="7.086" fill="#ff1000"/>
<rect x="931.80" y="84.659" width="31.20" height="7.086" fill="#ff2000"/>
<rect x="931.80" y="90.745" width="31.20" height="7.086" fill="#ff3000"/>
<rect x="931.80" y="96.831" width="31.20" height="7.086" fill="#ff4000"/>
<rect x="931.80" y="102.917" width="31.20" height="7.086" fill="#ff5000"/>
<rect x="931.80" y="109.003" width="31.20" height="7.086" fill="#ff6000"/>
<rect x="931.80" y="115.089" width="31.20" height="7.086" fill="#ff7000"/>
<rect x="931.80" y="121.175" width="31.20" height="7.086" fill="#ff8000"/>
<rect x="931.80" y="127.261" width="31.20" height="7.086" fill="#ff8f00"/>
<rect x="931.80" y="133.347" width="31.20" height="7.086" fill="#ff9f00"/>
<rect x="931.80" y="139.433" width="31.20" height="7.086" fill="#ffaf00"/>
<rect x="931.80" y="145.519" width="31.20" height="7.086" fill="#ffbf00"/>
<rect x="931.80" y="151.605" width="31.20" height="7.086" fill="#ffcf00"/>
<rect x="931.80" y="157.691" width="31.20" height="7.086" fill="#ffdf00"/>
<rect x="931.80" y="163.777" width="31.20" height="7.086" fill="#ffef00"/>
<rect x="931.80" y="169.863" width="31.20" height="7.086" fill="#ffff00"/>
<rect x="931.80" y="175.948" width="31.20" height="7.086" fill="#efff10"/>
<rect x="931.80" y="182.034" width="31.20" height="7.086" fill="#dfff20"/>
<rect x="931.80" y="188.120" width="31.20" height="7.086" fill="#cfff30"/>
<rect x="931.80" y="194.206" width="31.20" height="7.086" fill="#bfff40"/>
<rect x="931.80" y="200.292" width="31.20" height="7.086" fill="#afff50"/>
<rect x="931.80" y="206.378" width="31.20" height="7.086" fill="#9fff60"/>
<rect x="931.80" y="212.464" width="31.20" height="7.086" fill="#8fff70"/>
<rect x="931.80" y="218.550" width="31.20" height="7.086" fill="#80ff80"/>
<rect x="931.80" y="224.636" width="31.20" height="7.086" fill="#70ff8f"/>
<rect x="931.80" y="230.722" width="31.20" height="7.086" fill="#60ff9f"/>
<rect x="931.80" y="236.808" width="31.20" height="7.086" fill="#50ffaf"/>
<rect x="931.80" y="242.894" width="31.20" height="7.086" fill="#40ffbf"/>
<rect x="931.80" y="248.980" width="31.20" height="7.086" fill="#30ffcf"/>
<rect x="931.80" y="255.066" width="31.20" height="7.086" fill="#20ffdf"/>
<rect x="931.80" y="261.152" width="31.20" height="7.086" fill="#10ffef"/>
<rect x="931.80" y="267.238" width="31.20" height="7.086" fill="#00ffff"/>
<rect x="931.80" y="273.323" width="31.20" height="7.086" fill="#00efff"/>
<rect x="931.80" y="279.409" width="31.20" height="7.086" fill="#00dfff"/>
<rect x="931.80" y="285.495" width="31.20" height="7.086" fill="#00cfff"/>
<rect x="931.80" y="291.581" width="31.20" height="7.086" fill="#00bfff"/>
<rect x="931.80" y="297.667" width="31.20" height="7.086" fill="#00afff"/>
<rect x="931.80" y="303.753" width="31.20" height="7.086" fill="#009fff"/>
<rect x="931.80" y="309.839" width="31.20" height="7.086" fill="#008fff"/>
<rect x="931.80" y="315.925" width="31.20" height="7.086" fill="#0080ff"/>
<rect x="931.80" y="322.011" width="31.20" height="7.086" fill="#0070ff"/>
<rect x="931.80" y="328.097" width="31.20" height="7.086" fill="#0060ff"/>
<rect x="931.80" y="334.183" width="31.20" height="7.086" fill="#0050ff"/>
<rect x="931.80" y="340.269" width="31.20" height="7.086" fill="#0040ff"/>
<rect x="931.80" y="346.355" width="31.20" height="7.086" fill="#0030ff"/>
<rect x="931.80" y="352.441" width="31.20" height="7.086" fill="#0020ff"/>
<rect x="931.80" y="358.527" width="31.20" height="7.086" fill="#0010ff"/>
<rect x="931.80" y="364.613" width="31.20" height="7.086" fill="#0000ff"/>
<rect x="931.80" y="370.698" width="31.20" height="7.086" fill="#0000ef"/>
<rect x="931.80" y="376.784" width="31.20" height="7.086" fill="#0000df"/>
<rect x="931.80" y="382.870" width="31.20" height="7.086" fill="#0000cf"/>
<rect x="931.80" y="388.956" width="31.20" height="7.086" fill="#0000bf"/>
<rect x="931.80" y="395.042" width="31.20" height="7.086" fill="#0000af"/>
<rect x="931.80" y="401.128" width="31.20" height="7.086" fill="#00009f"/>
<rect x="931.80" y="407.214" width="31.20" height="6.086" fill="#00008f"/>
<line x1="418.00" y1="339.70" x2="421.50" y2="339.70" stroke="#333" stroke-opacity="0.7" stroke-width="0.9"/>
<line x1="446.50" y1="339.70" x2="450.00" y2="339.70" stroke="#333" stroke-opacity="0.7" stroke-width="0.9"/>
<line x1="418.00" y1="260.90" x2="421.50" y2="260.90" stroke="#333" stroke-opacity="0.7" stroke-width="0.9"/>
<line x1="446.50" y1="260.90" x2="450.00" y2="260.90" stroke="#333" stroke-opacity="0.7" stroke-width="0.9"/>
<line x1="418.00" y1="182.10" x2="421.50" y2="182.10" stroke="#333" stroke-opacity="0.7" stroke-width="0.9"/>
<line x1="446.50" y1="182.10" x2="450.00" y2="182.10" stroke="#333" stroke-opacity="0.7" stroke-width="0.9"/>
<line x1="418.00" y1="103.30" x2="421.50" y2="103.30" stroke="#333" stroke-opacity="0.7" stroke-width="0.9"/>
<line x1="446.50" y1="103.30" x2="450.00" y2="103.30" stroke="#333" stroke-opacity="0.7" stroke-width="0.9"/>
<line x1="931.80" y1="337.23" x2="935.30" y2="337.23" stroke="#333" stroke-opacity="0.7" stroke-width="0.9"/>
<line x1="959.50" y1="337.23" x2="963.00" y2="337.23" stroke="#333" stroke-opacity="0.7" stroke-width="0.9"/>
<line x1="931.80" y1="261.15" x2="935.30" y2="261.15" stroke="#333" stroke-opacity="0.7" stroke-width="0.9"/>
<line x1="959.50" y1="261.15" x2="963.00" y2="261.15" stroke="#333" stroke-opacity="0.7" stroke-width="0.9"/>
<line x1="931.80" y1="185.08" x2="935.30" y2="185.08" stroke="#333" stroke-opacity="0.7" stroke-width="0.9"/>
<line x1="959.50" y1="185.08" x2="963.00" y2="185.08" stroke="#333" stroke-opacity="0.7" stroke-width="0.9"/>
<line x1="931.80" y1="109.00" x2="935.30" y2="109.00" stroke="#333" stroke-opacity="0.7" stroke-width="0.9"/>
<line x1="959.50" y1="109.00" x2="963.00" y2="109.00" stroke="#333" stroke-opacity="0.7" stroke-width="0.9"/>
<line x1="931.80" y1="32.93" x2="935.30" y2="32.93" stroke="#333" stroke-opacity="0.7" stroke-width="0.9"/>
<line x1="959.50" y1="32.93" x2="963.00" y2="32.93" stroke="#333" stroke-opacity="0.7" stroke-width="0.9"/>
<circle cx="119.5" cy="77.6" r="4.7" stroke="#000" stroke-opacity="0.36" stroke-width="0.85" fill="none"/>
<circle cx="186.2" cy="105.5" r="4.7" stroke="#000" stroke-opacity="0.36" stroke-width="0.85" fill="none"/>
<circle cx="254" cy="77.4" r="4.7" stroke="#000" stroke-opacity="0.36" stroke-width="0.85" fill="none"/>
<circle cx="215.4" cy="87" r="4.7" stroke="#000" stroke-opacity="0.36" stroke-width="0.85" fill="none"/>
<circle cx="244.6" cy="87" r="4.7" stroke="#000" stroke-opacity="0.36" stroke-width="0.85" fill="none"/>
<circle cx="254" cy="87" r="4.7" stroke="#000" stroke-opacity="0.36" stroke-width="0.85" fill="none"/>
<circle cx="128.3" cy="173.2" r="4.7" stroke="#000" stroke-opacity="0.36" stroke-width="0.85" fill="none"/>
<circle cx="176.8" cy="191.9" r="4.7" stroke="#000" stroke-opacity="0.36" stroke-width="0.85" fill="none"/>
<circle cx="167.1" cy="230.7" r="4.7" stroke="#000" stroke-opacity="0.36" stroke-width="0.85" fill="none"/>
<circle cx="89.6" cy="298.2" r="4.7" stroke="#000" stroke-opacity="0.36" stroke-width="0.85" fill="none"/>
<circle cx="90.4" cy="346" r="4.7" stroke="#000" stroke-opacity="0.36" stroke-width="0.85" fill="none"/>
<circle cx="176.8" cy="346" r="4.7" stroke="#000" stroke-opacity="0.36" stroke-width="0.85" fill="none"/>
<circle cx="176.8" cy="364.5" r="4.7" stroke="#000" stroke-opacity="0.36" stroke-width="0.85" fill="none"/>
<circle cx="224.5" cy="288.7" r="4.7" stroke="#000" stroke-opacity="0.36" stroke-width="0.85" fill="none"/>
<circle cx="263.1" cy="326" r="4.7" stroke="#000" stroke-opacity="0.36" stroke-width="0.85" fill="none"/>
<circle cx="292.6" cy="364.3" r="4.7" stroke="#000" stroke-opacity="0.36" stroke-width="0.85" fill="none"/>
<circle cx="664.9" cy="37.2" r="4.7" stroke="#000" stroke-opacity="0.36" stroke-width="0.85" fill="none"/>
<circle cx="636.9" cy="75.4" r="4.7" stroke="#000" stroke-opacity="0.36" stroke-width="0.85" fill="none"/>
<circle cx="703" cy="103.3" r="4.7" stroke="#000" stroke-opacity="0.36" stroke-width="0.85" fill="none"/>
<circle cx="770" cy="75.4" r="4.7" stroke="#000" stroke-opacity="0.36" stroke-width="0.85" fill="none"/>
<circle cx="731.8" cy="85" r="4.7" stroke="#000" stroke-opacity="0.36" stroke-width="0.85" fill="none"/>
<circle cx="760.8" cy="85" r="4.7" stroke="#000" stroke-opacity="0.36" stroke-width="0.85" fill="none"/>
<circle cx="770" cy="85" r="4.7" stroke="#000" stroke-opacity="0.36" stroke-width="0.85" fill="none"/>
<circle cx="740.5" cy="103.3" r="4.7" stroke="#000" stroke-opacity="0.36" stroke-width="0.85" fill="none"/>
<circle cx="826.5" cy="93.7" r="4.7" stroke="#000" stroke-opacity="0.36" stroke-width="0.85" fill="none"/>
<circle cx="646" cy="170" r="4.7" stroke="#000" stroke-opacity="0.36" stroke-width="0.85" fill="none"/>
<circle cx="693.8" cy="188.7" r="4.7" stroke="#000" stroke-opacity="0.36" stroke-width="0.85" fill="none"/>
<circle cx="684.6" cy="226.5" r="4.7" stroke="#000" stroke-opacity="0.36" stroke-width="0.85" fill="none"/>
<circle cx="872.6" cy="255" r="4.7" stroke="#000" stroke-opacity="0.36" stroke-width="0.85" fill="none"/>
<circle cx="607.4" cy="293.6" r="4.7" stroke="#000" stroke-opacity="0.36" stroke-width="0.85" fill="none"/>
<circle cx="608.4" cy="341" r="4.7" stroke="#000" stroke-opacity="0.36" stroke-width="0.85" fill="none"/>
<circle cx="693.8" cy="341" r="4.7" stroke="#000" stroke-opacity="0.36" stroke-width="0.85" fill="none"/>
<circle cx="693.8" cy="359.3" r="4.7" stroke="#000" stroke-opacity="0.36" stroke-width="0.85" fill="none"/>
<circle cx="740.9" cy="284.1" r="4.7" stroke="#000" stroke-opacity="0.36" stroke-width="0.85" fill="none"/>
<circle cx="779.1" cy="321.3" r="4.7" stroke="#000" stroke-opacity="0.36" stroke-width="0.85" fill="none"/>
<circle cx="808.6" cy="359.3" r="4.7" stroke="#000" stroke-opacity="0.36" stroke-width="0.85" fill="none"/>
<path d="M114.9 87H124.1M119.5 82.4V91.6" stroke="#000" stroke-opacity="0.36" stroke-width="0.85" fill="none"/>
<path d="M153.5 96.5H162.7M158.1 91.9V101.1" stroke="#000" stroke-opacity="0.36" stroke-width="0.85" fill="none"/>
<path d="M219.9 29.5H229.1M224.5 24.9V34.1" stroke="#000" stroke-opacity="0.36" stroke-width="0.85" fill="none"/>
<path d="M278.2 57.8H287.4M282.8 53.2V62.4" stroke="#000" stroke-opacity="0.36" stroke-width="0.85" fill="none"/>
<path d="M259.0 77.4H268.2M263.6 72.8V82.0" stroke="#000" stroke-opacity="0.36" stroke-width="0.85" fill="none"/>
<path d="M27.9 144.5H37.1M32.5 139.9V149.1" stroke="#000" stroke-opacity="0.36" stroke-width="0.85" fill="none"/>
<path d="M95.0 163.8H104.2M99.6 159.2V168.4" stroke="#000" stroke-opacity="0.36" stroke-width="0.85" fill="none"/>
<path d="M172.2 182.5H181.4M176.8 177.9V187.1" stroke="#000" stroke-opacity="0.36" stroke-width="0.85" fill="none"/>
<path d="M18.8 278H28.0M23.4 273.4V282.6" stroke="#000" stroke-opacity="0.36" stroke-width="0.85" fill="none"/>
<path d="M76.4 346H85.6M81 341.4V350.6" stroke="#000" stroke-opacity="0.36" stroke-width="0.85" fill="none"/>
<path d="M153.0 355.5H162.2M157.6 350.9V360.1" stroke="#000" stroke-opacity="0.36" stroke-width="0.85" fill="none"/>
<path d="M114.6 394H123.8M119.2 389.4V398.6" stroke="#000" stroke-opacity="0.36" stroke-width="0.85" fill="none"/>
<path d="M173.2 403.3H182.4M177.8 398.7V407.9" stroke="#000" stroke-opacity="0.36" stroke-width="0.85" fill="none"/>
<path d="M201.9 394H211.1M206.5 389.4V398.6" stroke="#000" stroke-opacity="0.36" stroke-width="0.85" fill="none"/>
<path d="M210.8 288.7H220.0M215.4 284.1V293.3" stroke="#000" stroke-opacity="0.36" stroke-width="0.85" fill="none"/>
<path d="M249.4 298.2H258.6M254 293.6V302.8" stroke="#000" stroke-opacity="0.36" stroke-width="0.85" fill="none"/>
<path d="M219.9 307.4H229.1M224.5 302.8V312.0" stroke="#000" stroke-opacity="0.36" stroke-width="0.85" fill="none"/>
<path d="M258.5 336.3H267.7M263.1 331.7V340.9" stroke="#000" stroke-opacity="0.36" stroke-width="0.85" fill="none"/>
<path d="M383.9 183H393.1M388.5 178.4V187.6" stroke="#000" stroke-opacity="0.36" stroke-width="0.85" fill="none"/>
<path d="M384.1 231H393.3M388.7 226.4V235.6" stroke="#000" stroke-opacity="0.36" stroke-width="0.85" fill="none"/>
<path d="M336.2 269.1H345.4M340.8 264.5V273.7" stroke="#000" stroke-opacity="0.36" stroke-width="0.85" fill="none"/>
<path d="M670.9 37.2H680.1M675.5 32.6V41.8" stroke="#000" stroke-opacity="0.36" stroke-width="0.85" fill="none"/>
<path d="M632.3 85H641.5M636.9 80.4V89.6" stroke="#000" stroke-opacity="0.36" stroke-width="0.85" fill="none"/>
<path d="M792.8 55.5H802.0M797.4 50.9V60.1" stroke="#000" stroke-opacity="0.36" stroke-width="0.85" fill="none"/>
<path d="M775.1 75.4H784.3M779.7 70.8V80.0" stroke="#000" stroke-opacity="0.36" stroke-width="0.85" fill="none"/>
<path d="M735.9 93.7H745.1M740.5 89.1V98.3" stroke="#000" stroke-opacity="0.36" stroke-width="0.85" fill="none"/>
<path d="M556.1 150.7H565.3M560.7 146.1V155.3" stroke="#000" stroke-opacity="0.36" stroke-width="0.85" fill="none"/>
<path d="M698.4 179.1H707.6M703 174.5V183.7" stroke="#000" stroke-opacity="0.36" stroke-width="0.85" fill="none"/>
<path d="M889.0 179.1H898.2M893.6 174.5V183.7" stroke="#000" stroke-opacity="0.36" stroke-width="0.85" fill="none"/>
<path d="M537.8 274.3H547.0M542.4 269.7V278.9" stroke="#000" stroke-opacity="0.36" stroke-width="0.85" fill="none"/>
<path d="M859.9 255H869.1M864.5 250.4V259.6" stroke="#000" stroke-opacity="0.36" stroke-width="0.85" fill="none"/>
<path d="M735.9 274.3H745.1M740.5 269.7V278.9" stroke="#000" stroke-opacity="0.36" stroke-width="0.85" fill="none"/>
<path d="M593.7 341H602.9M598.3 336.4V345.6" stroke="#000" stroke-opacity="0.36" stroke-width="0.85" fill="none"/>
<path d="M669.9 341H679.1M674.5 336.4V345.6" stroke="#000" stroke-opacity="0.36" stroke-width="0.85" fill="none"/>
<path d="M746.1 311.5H755.3M750.7 306.9V316.1" stroke="#000" stroke-opacity="0.36" stroke-width="0.85" fill="none"/>
<path d="M632.4 379H641.6M637 374.4V383.6" stroke="#000" stroke-opacity="0.36" stroke-width="0.85" fill="none"/>
<path d="M698.4 388H707.6M703 383.4V392.6" stroke="#000" stroke-opacity="0.36" stroke-width="0.85" fill="none"/>
<path d="M784.4 388.6H793.6M789 384.0V393.2" stroke="#000" stroke-opacity="0.36" stroke-width="0.85" fill="none"/>
<circle cx="147.5" cy="39.2" r="4.7" stroke="#000" stroke-opacity="0.36" stroke-width="0.85" fill="none"/><path d="M142.8 39.2H152.2M147.5 34.5V43.9" stroke="#000" stroke-opacity="0.36" stroke-width="0.85" fill="none"/>
<circle cx="311" cy="96.2" r="4.7" stroke="#000" stroke-opacity="0.36" stroke-width="0.85" fill="none"/><path d="M306.3 96.2H315.7M311 91.5V100.9" stroke="#000" stroke-opacity="0.36" stroke-width="0.85" fill="none"/>
<circle cx="224.6" cy="105.4" r="4.7" stroke="#000" stroke-opacity="0.36" stroke-width="0.85" fill="none"/><path d="M219.9 105.4H229.3M224.6 100.7V110.1" stroke="#000" stroke-opacity="0.36" stroke-width="0.85" fill="none"/>
<circle cx="119.5" cy="250.3" r="4.7" stroke="#000" stroke-opacity="0.36" stroke-width="0.85" fill="none"/><path d="M114.8 250.3H124.2M119.5 245.6V255.0" stroke="#000" stroke-opacity="0.36" stroke-width="0.85" fill="none"/>
<circle cx="311.3" cy="345.6" r="4.7" stroke="#000" stroke-opacity="0.36" stroke-width="0.85" fill="none"/><path d="M306.6 345.6H316.0M311.3 340.9V350.3" stroke="#000" stroke-opacity="0.36" stroke-width="0.85" fill="none"/>
<circle cx="636.9" cy="246.4" r="4.7" stroke="#000" stroke-opacity="0.36" stroke-width="0.85" fill="none"/><path d="M632.2 246.4H641.6M636.9 241.7V251.1" stroke="#000" stroke-opacity="0.36" stroke-width="0.85" fill="none"/>
<circle cx="826.5" cy="341" r="4.7" stroke="#000" stroke-opacity="0.36" stroke-width="0.85" fill="none"/><path d="M821.8 341H831.2M826.5 336.3V345.7" stroke="#000" stroke-opacity="0.36" stroke-width="0.85" fill="none"/>
<line x1="259.9" y1="150.9" x2="166.76" y2="59.50" stroke="#fff" stroke-opacity="0.6" stroke-width="0.7"/><path d="M158.2 51.1L173.33 57.82L166.76 59.50L165.20 66.10Z" fill="#fff"/>
<line x1="327.4" y1="156.7" x2="322.93" y2="122.81" stroke="#fff" stroke-opacity="0.6" stroke-width="0.7"/><path d="M320.3 111.1L329.35 124.95L322.93 122.81L318.03 127.49Z" fill="#fff"/>
<line x1="278.4" y1="248.5" x2="269.65" y2="304.74" stroke="#fff" stroke-opacity="0.6" stroke-width="0.7"/><path d="M267.8 316.6L264.45 300.39L269.65 304.74L275.91 302.18Z" fill="#fff"/>
<line x1="237.0" y1="204.0" x2="120.44" y2="170.70" stroke="#fff" stroke-opacity="0.6" stroke-width="0.7"/><path d="M108.9 167.4L125.40 166.08L120.44 170.70L122.21 177.24Z" fill="#fff"/>
<rect x="0" y="25" width="1" height="393" fill="#fff" fill-opacity="0.15"/>
<text transform="translate(195.6,13.0) scale(0.94,1)" fill="#000" font-size="16" text-anchor="middle">9236</text>
<text transform="translate(712.4,10.8) scale(0.94,1)" fill="#000" font-size="16" text-anchor="middle">9236</text>
<text transform="translate(452.7,29.8) scale(0.94,1)" fill="#000" font-size="16" text-anchor="start">25m</text>
<text transform="translate(452.7,108) scale(0.94,1)" fill="#000" font-size="16" text-anchor="start">20</text>
<text transform="translate(452.7,187) scale(0.94,1)" fill="#000" font-size="16" text-anchor="start">15</text>
<text transform="translate(452.7,265.1) scale(0.94,1)" fill="#000" font-size="16" text-anchor="start">10</text>
<text transform="translate(452.7,344.8) scale(0.94,1)" fill="#000" font-size="16" text-anchor="start">5</text>
<text transform="translate(452.7,422.7) scale(0.94,1)" fill="#000" font-size="16" text-anchor="start">0</text>
<text transform="translate(987.8,39.0) scale(0.94,1)" fill="#000" font-size="16" text-anchor="start">m</text>
<text transform="translate(966.3,39.0) scale(0.94,1)" fill="#000" font-size="16" text-anchor="start">25</text>
<text transform="translate(966.3,113.7) scale(0.94,1)" fill="#000" font-size="16" text-anchor="start">20</text>
<text transform="translate(966.3,190) scale(0.94,1)" fill="#000" font-size="16" text-anchor="start">15</text>
<text transform="translate(966.3,266) scale(0.94,1)" fill="#000" font-size="16" text-anchor="start">10</text>
<text transform="translate(966.3,341.8) scale(0.94,1)" fill="#000" font-size="16" text-anchor="start">5</text>
<text transform="translate(966.3,417.7) scale(0.94,1)" fill="#000" font-size="16" text-anchor="start">0</text>
<text transform="translate(13.2,403.2) scale(1,1)" fill="#fff" font-size="15" text-anchor="start">Lmin</text>
<text transform="translate(530.6,392.8) scale(1,1)" fill="#fff" font-size="15" text-anchor="start">Lmax</text>
<text transform="translate(261.2,166.2) scale(1,1)" fill="#fff" font-size="15" text-anchor="start">A</text>
<text transform="translate(321.6,169.7) scale(1,1)" fill="#fff" font-size="15" text-anchor="start">B</text>
<text transform="translate(272.6,243.2) scale(1,1)" fill="#fff" font-size="15" text-anchor="start">C</text>
<text transform="translate(237.3,208) scale(1,1)" fill="#fff" font-size="15" text-anchor="start">D</text>
<text transform="translate(91.0,302.6) scale(0.97,1)" fill="#000" font-size="15.5" text-anchor="start">7.7</text>
<text transform="translate(359.2,263.8) scale(1,1)" fill="#000" font-size="15" text-anchor="start">29</text>
<text transform="translate(607.8,298.7) scale(0.97,1)" fill="#000" font-size="15.5" text-anchor="start">7.7</text>
<text transform="translate(874.5,259.8) scale(1,1)" fill="#000" font-size="15" text-anchor="start">29</text>
</svg>
</body></html>
